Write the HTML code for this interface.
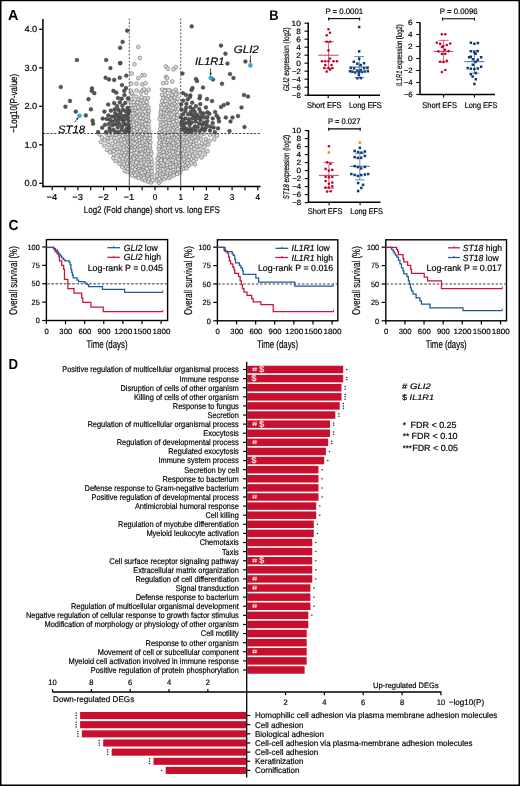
<!DOCTYPE html>
<html><head><meta charset="utf-8"><style>
html,body{margin:0;padding:0;background:#fff;}
body{width:520px;height:786px;overflow:hidden;}
svg{display:block;font-family:"Liberation Sans",sans-serif;will-change:transform;}
text{text-rendering:geometricPrecision;}
</style></head><body>
<svg width="520" height="786" viewBox="0 0 520 786">
<rect x="0" y="0" width="520" height="786" fill="#fff"/>
<text x="8.00" y="19.80" font-size="14.60" font-weight="bold" textLength="10.40" lengthAdjust="spacingAndGlyphs" xml:space="preserve">A</text>
<g fill="#dcdcdc" stroke="#6a6a6a" stroke-width="0.6">
<circle cx="143.0" cy="114.7" r="1.85"/>
<circle cx="197.4" cy="137.9" r="1.85"/>
<circle cx="167.0" cy="110.6" r="1.85"/>
<circle cx="114.2" cy="138.3" r="1.85"/>
<circle cx="111.5" cy="147.9" r="1.85"/>
<circle cx="133.1" cy="146.2" r="1.85"/>
<circle cx="159.1" cy="164.5" r="1.85"/>
<circle cx="126.9" cy="163.4" r="1.85"/>
<circle cx="166.0" cy="136.6" r="1.85"/>
<circle cx="167.2" cy="133.0" r="1.85"/>
<circle cx="146.4" cy="173.2" r="1.85"/>
<circle cx="173.8" cy="128.0" r="1.85"/>
<circle cx="132.8" cy="156.6" r="1.85"/>
<circle cx="149.0" cy="120.8" r="1.85"/>
<circle cx="137.2" cy="120.2" r="1.85"/>
<circle cx="177.8" cy="171.7" r="1.85"/>
<circle cx="184.8" cy="148.7" r="1.85"/>
<circle cx="167.2" cy="158.9" r="1.85"/>
<circle cx="186.7" cy="157.3" r="1.85"/>
<circle cx="175.2" cy="100.4" r="1.85"/>
<circle cx="161.6" cy="165.9" r="1.85"/>
<circle cx="122.0" cy="144.3" r="1.85"/>
<circle cx="147.7" cy="147.7" r="1.85"/>
<circle cx="145.2" cy="147.9" r="1.85"/>
<circle cx="142.5" cy="169.6" r="1.85"/>
<circle cx="172.2" cy="138.3" r="1.85"/>
<circle cx="137.2" cy="141.0" r="1.85"/>
<circle cx="163.1" cy="98.0" r="1.85"/>
<circle cx="164.0" cy="166.4" r="1.85"/>
<circle cx="149.1" cy="154.8" r="1.85"/>
<circle cx="136.2" cy="96.6" r="1.85"/>
<circle cx="148.6" cy="140.4" r="1.85"/>
<circle cx="127.3" cy="145.5" r="1.85"/>
<circle cx="183.3" cy="168.9" r="1.85"/>
<circle cx="143.9" cy="144.3" r="1.85"/>
<circle cx="139.6" cy="124.0" r="1.85"/>
<circle cx="143.4" cy="175.3" r="1.85"/>
<circle cx="146.3" cy="156.8" r="1.85"/>
<circle cx="162.1" cy="158.1" r="1.85"/>
<circle cx="175.2" cy="131.9" r="1.85"/>
<circle cx="174.0" cy="114.8" r="1.85"/>
<circle cx="135.8" cy="166.8" r="1.85"/>
<circle cx="187.2" cy="145.5" r="1.85"/>
<circle cx="129.3" cy="159.4" r="1.85"/>
<circle cx="176.4" cy="106.4" r="1.85"/>
<circle cx="183.5" cy="156.4" r="1.85"/>
<circle cx="163.9" cy="126.7" r="1.85"/>
<circle cx="151.7" cy="168.0" r="1.85"/>
<circle cx="136.7" cy="131.2" r="1.85"/>
<circle cx="130.5" cy="168.5" r="1.85"/>
<circle cx="140.4" cy="176.6" r="1.85"/>
<circle cx="135.6" cy="113.1" r="1.85"/>
<circle cx="172.5" cy="149.4" r="1.85"/>
<circle cx="139.9" cy="143.2" r="1.85"/>
<circle cx="208.2" cy="144.6" r="1.85"/>
<circle cx="128.1" cy="140.1" r="1.85"/>
<circle cx="162.2" cy="171.6" r="1.85"/>
<circle cx="193.7" cy="141.8" r="1.85"/>
<circle cx="188.2" cy="149.8" r="1.85"/>
<circle cx="173.3" cy="162.5" r="1.85"/>
<circle cx="128.9" cy="142.4" r="1.85"/>
<circle cx="165.2" cy="119.2" r="1.85"/>
<circle cx="143.5" cy="167.1" r="1.85"/>
<circle cx="142.5" cy="146.6" r="1.85"/>
<circle cx="130.3" cy="162.9" r="1.85"/>
<circle cx="170.3" cy="128.4" r="1.85"/>
<circle cx="174.6" cy="103.5" r="1.85"/>
<circle cx="164.8" cy="157.7" r="1.85"/>
<circle cx="177.6" cy="124.7" r="1.85"/>
<circle cx="145.7" cy="151.4" r="1.85"/>
<circle cx="131.6" cy="148.3" r="1.85"/>
<circle cx="125.2" cy="136.7" r="1.85"/>
<circle cx="161.8" cy="131.6" r="1.85"/>
<circle cx="138.8" cy="133.7" r="1.85"/>
<circle cx="168.9" cy="137.8" r="1.85"/>
<circle cx="172.8" cy="140.5" r="1.85"/>
<circle cx="174.8" cy="97.5" r="1.85"/>
<circle cx="143.6" cy="118.5" r="1.85"/>
<circle cx="130.0" cy="116.0" r="1.85"/>
<circle cx="146.1" cy="177.5" r="1.85"/>
<circle cx="162.8" cy="173.9" r="1.85"/>
<circle cx="150.7" cy="151.1" r="1.85"/>
<circle cx="117.1" cy="149.3" r="1.85"/>
<circle cx="170.8" cy="158.0" r="1.85"/>
<circle cx="165.6" cy="90.0" r="1.85"/>
<circle cx="139.3" cy="139.6" r="1.85"/>
<circle cx="148.3" cy="114.3" r="1.85"/>
<circle cx="203.0" cy="150.4" r="1.85"/>
<circle cx="135.0" cy="147.4" r="1.85"/>
<circle cx="137.1" cy="116.6" r="1.85"/>
<circle cx="121.4" cy="152.3" r="1.85"/>
<circle cx="107.1" cy="149.7" r="1.85"/>
<circle cx="191.2" cy="163.4" r="1.85"/>
<circle cx="151.6" cy="161.7" r="1.85"/>
<circle cx="170.6" cy="117.0" r="1.85"/>
<circle cx="118.8" cy="140.9" r="1.85"/>
<circle cx="146.0" cy="113.8" r="1.85"/>
<circle cx="144.7" cy="180.4" r="1.85"/>
<circle cx="188.9" cy="165.5" r="1.85"/>
<circle cx="162.6" cy="177.0" r="1.85"/>
<circle cx="125.9" cy="166.7" r="1.85"/>
<circle cx="205.8" cy="138.9" r="1.85"/>
<circle cx="129.5" cy="152.2" r="1.85"/>
<circle cx="179.7" cy="139.3" r="1.85"/>
<circle cx="175.9" cy="154.5" r="1.85"/>
<circle cx="191.3" cy="158.7" r="1.85"/>
<circle cx="176.2" cy="164.9" r="1.85"/>
<circle cx="166.6" cy="126.0" r="1.85"/>
<circle cx="139.0" cy="169.1" r="1.85"/>
<circle cx="184.6" cy="134.6" r="1.85"/>
<circle cx="123.3" cy="161.8" r="1.85"/>
<circle cx="139.3" cy="151.5" r="1.85"/>
<circle cx="162.1" cy="101.1" r="1.85"/>
<circle cx="193.0" cy="134.8" r="1.85"/>
<circle cx="192.3" cy="138.0" r="1.85"/>
<circle cx="160.8" cy="125.0" r="1.85"/>
<circle cx="167.2" cy="153.1" r="1.85"/>
<circle cx="145.4" cy="132.7" r="1.85"/>
<circle cx="131.4" cy="105.1" r="1.85"/>
<circle cx="144.7" cy="171.7" r="1.85"/>
<circle cx="138.9" cy="109.3" r="1.85"/>
<circle cx="132.6" cy="167.4" r="1.85"/>
<circle cx="118.1" cy="143.8" r="1.85"/>
<circle cx="171.4" cy="155.9" r="1.85"/>
<circle cx="201.7" cy="143.5" r="1.85"/>
<circle cx="131.5" cy="170.8" r="1.85"/>
<circle cx="175.6" cy="152.1" r="1.85"/>
<circle cx="176.3" cy="149.1" r="1.85"/>
<circle cx="159.3" cy="156.9" r="1.85"/>
<circle cx="144.7" cy="98.3" r="1.85"/>
<circle cx="144.1" cy="135.7" r="1.85"/>
<circle cx="139.5" cy="128.8" r="1.85"/>
<circle cx="146.7" cy="129.9" r="1.85"/>
<circle cx="180.1" cy="136.5" r="1.85"/>
<circle cx="171.7" cy="95.1" r="1.85"/>
<circle cx="150.2" cy="175.4" r="1.85"/>
<circle cx="164.7" cy="132.7" r="1.85"/>
<circle cx="134.1" cy="172.9" r="1.85"/>
<circle cx="148.7" cy="159.4" r="1.85"/>
<circle cx="143.2" cy="103.1" r="1.85"/>
<circle cx="184.5" cy="139.2" r="1.85"/>
<circle cx="168.7" cy="105.6" r="1.85"/>
<circle cx="147.6" cy="162.3" r="1.85"/>
<circle cx="136.5" cy="160.2" r="1.85"/>
<circle cx="162.9" cy="146.9" r="1.85"/>
<circle cx="142.8" cy="108.3" r="1.85"/>
<circle cx="169.1" cy="160.6" r="1.85"/>
<circle cx="169.2" cy="150.5" r="1.85"/>
<circle cx="175.0" cy="173.5" r="1.85"/>
<circle cx="132.0" cy="118.0" r="1.85"/>
<circle cx="136.4" cy="123.7" r="1.85"/>
<circle cx="176.9" cy="120.8" r="1.85"/>
<circle cx="184.8" cy="162.2" r="1.85"/>
<circle cx="137.2" cy="170.7" r="1.85"/>
<circle cx="196.8" cy="146.5" r="1.85"/>
<circle cx="136.8" cy="105.0" r="1.85"/>
<circle cx="169.0" cy="142.3" r="1.85"/>
<circle cx="176.5" cy="117.4" r="1.85"/>
<circle cx="137.2" cy="144.7" r="1.85"/>
<circle cx="136.7" cy="134.8" r="1.85"/>
<circle cx="123.9" cy="139.5" r="1.85"/>
<circle cx="170.0" cy="102.2" r="1.85"/>
<circle cx="175.5" cy="159.4" r="1.85"/>
<circle cx="169.5" cy="154.2" r="1.85"/>
<circle cx="145.8" cy="166.9" r="1.85"/>
<circle cx="151.4" cy="153.9" r="1.85"/>
<circle cx="138.2" cy="99.7" r="1.85"/>
<circle cx="131.0" cy="173.7" r="1.85"/>
<circle cx="133.7" cy="120.0" r="1.85"/>
<circle cx="113.7" cy="151.0" r="1.85"/>
<circle cx="217.0" cy="135.7" r="1.85"/>
<circle cx="131.7" cy="128.9" r="1.85"/>
<circle cx="142.7" cy="157.8" r="1.85"/>
<circle cx="162.5" cy="139.7" r="1.85"/>
<circle cx="196.1" cy="159.2" r="1.85"/>
<circle cx="144.4" cy="155.0" r="1.85"/>
<circle cx="165.3" cy="139.7" r="1.85"/>
<circle cx="124.1" cy="155.4" r="1.85"/>
<circle cx="115.8" cy="134.7" r="1.85"/>
<circle cx="124.8" cy="142.5" r="1.85"/>
<circle cx="156.8" cy="178.3" r="1.85"/>
<circle cx="167.2" cy="167.3" r="1.85"/>
<circle cx="178.1" cy="157.2" r="1.85"/>
<circle cx="159.0" cy="161.1" r="1.85"/>
<circle cx="164.7" cy="162.5" r="1.85"/>
<circle cx="131.4" cy="132.8" r="1.85"/>
<circle cx="173.4" cy="171.9" r="1.85"/>
<circle cx="129.6" cy="108.7" r="1.85"/>
<circle cx="175.6" cy="167.5" r="1.85"/>
<circle cx="142.8" cy="124.4" r="1.85"/>
<circle cx="142.4" cy="127.5" r="1.85"/>
<circle cx="132.6" cy="122.5" r="1.85"/>
<circle cx="139.3" cy="114.0" r="1.85"/>
<circle cx="175.7" cy="169.9" r="1.85"/>
<circle cx="125.6" cy="159.3" r="1.85"/>
<circle cx="115.4" cy="141.5" r="1.85"/>
<circle cx="139.6" cy="161.6" r="1.85"/>
<circle cx="187.2" cy="133.5" r="1.85"/>
<circle cx="191.4" cy="151.6" r="1.85"/>
<circle cx="170.2" cy="173.3" r="1.85"/>
<circle cx="160.9" cy="153.2" r="1.85"/>
<circle cx="108.8" cy="135.0" r="1.85"/>
<circle cx="166.5" cy="142.0" r="1.85"/>
<circle cx="174.2" cy="134.3" r="1.85"/>
<circle cx="171.9" cy="144.8" r="1.85"/>
<circle cx="172.0" cy="124.9" r="1.85"/>
<circle cx="180.9" cy="158.8" r="1.85"/>
<circle cx="166.2" cy="145.8" r="1.85"/>
<circle cx="158.7" cy="154.6" r="1.85"/>
<circle cx="169.1" cy="126.1" r="1.85"/>
<circle cx="146.2" cy="126.2" r="1.85"/>
<circle cx="198.5" cy="149.9" r="1.85"/>
<circle cx="159.4" cy="137.6" r="1.85"/>
<circle cx="173.1" cy="169.2" r="1.85"/>
<circle cx="141.7" cy="160.0" r="1.85"/>
<circle cx="165.5" cy="169.2" r="1.85"/>
<circle cx="144.8" cy="121.6" r="1.85"/>
<circle cx="147.1" cy="105.5" r="1.85"/>
<circle cx="142.6" cy="138.4" r="1.85"/>
<circle cx="188.5" cy="135.8" r="1.85"/>
<circle cx="209.5" cy="140.8" r="1.85"/>
<circle cx="141.0" cy="135.7" r="1.85"/>
<circle cx="132.6" cy="108.5" r="1.85"/>
<circle cx="201.6" cy="157.5" r="1.85"/>
<circle cx="156.7" cy="180.6" r="1.85"/>
<circle cx="144.7" cy="111.5" r="1.85"/>
<circle cx="141.3" cy="100.7" r="1.85"/>
<circle cx="124.9" cy="171.2" r="1.85"/>
<circle cx="148.0" cy="117.5" r="1.85"/>
<circle cx="158.9" cy="182.7" r="1.85"/>
<circle cx="120.4" cy="134.4" r="1.85"/>
<circle cx="108.5" cy="144.8" r="1.85"/>
<circle cx="147.5" cy="175.7" r="1.85"/>
<circle cx="180.8" cy="169.9" r="1.85"/>
<circle cx="174.6" cy="138.2" r="1.85"/>
<circle cx="120.8" cy="156.4" r="1.85"/>
<circle cx="139.2" cy="154.3" r="1.85"/>
<circle cx="129.9" cy="121.8" r="1.85"/>
<circle cx="133.7" cy="139.5" r="1.85"/>
<circle cx="178.3" cy="167.0" r="1.85"/>
<circle cx="176.1" cy="127.0" r="1.85"/>
<circle cx="112.6" cy="143.3" r="1.85"/>
<circle cx="135.3" cy="110.0" r="1.85"/>
<circle cx="140.1" cy="111.4" r="1.85"/>
<circle cx="130.8" cy="90.7" r="1.85"/>
<circle cx="180.2" cy="153.6" r="1.85"/>
<circle cx="130.4" cy="140.3" r="1.85"/>
<circle cx="137.0" cy="157.0" r="1.85"/>
<circle cx="161.5" cy="122.0" r="1.85"/>
<circle cx="122.3" cy="167.0" r="1.85"/>
<circle cx="129.0" cy="149.9" r="1.85"/>
<circle cx="200.6" cy="135.7" r="1.85"/>
<circle cx="125.1" cy="133.4" r="1.85"/>
<circle cx="166.8" cy="98.7" r="1.85"/>
<circle cx="160.6" cy="169.1" r="1.85"/>
<circle cx="135.0" cy="169.5" r="1.85"/>
<circle cx="162.9" cy="116.8" r="1.85"/>
<circle cx="120.2" cy="148.2" r="1.85"/>
<circle cx="203.8" cy="133.7" r="1.85"/>
<circle cx="119.2" cy="136.8" r="1.85"/>
<circle cx="151.3" cy="182.4" r="1.85"/>
<circle cx="152.2" cy="174.0" r="1.85"/>
<circle cx="164.4" cy="171.8" r="1.85"/>
<circle cx="186.3" cy="154.3" r="1.85"/>
<circle cx="127.6" cy="171.8" r="1.85"/>
<circle cx="170.9" cy="112.3" r="1.85"/>
<circle cx="160.9" cy="114.8" r="1.85"/>
<circle cx="175.3" cy="108.9" r="1.85"/>
<circle cx="140.6" cy="117.9" r="1.85"/>
<circle cx="111.1" cy="137.9" r="1.85"/>
<circle cx="168.8" cy="120.6" r="1.85"/>
<circle cx="134.9" cy="154.6" r="1.85"/>
<circle cx="189.6" cy="143.9" r="1.85"/>
<circle cx="176.1" cy="143.3" r="1.85"/>
<circle cx="160.1" cy="140.6" r="1.85"/>
<circle cx="162.0" cy="94.8" r="1.85"/>
<circle cx="146.0" cy="142.1" r="1.85"/>
<circle cx="148.9" cy="133.1" r="1.85"/>
<circle cx="160.7" cy="181.0" r="1.85"/>
<circle cx="189.4" cy="153.7" r="1.85"/>
<circle cx="177.6" cy="115.1" r="1.85"/>
<circle cx="170.3" cy="177.2" r="1.85"/>
<circle cx="134.1" cy="127.3" r="1.85"/>
<circle cx="163.1" cy="112.5" r="1.85"/>
<circle cx="132.0" cy="99.1" r="1.85"/>
<circle cx="138.9" cy="137.1" r="1.85"/>
<circle cx="168.2" cy="178.0" r="1.85"/>
<circle cx="132.2" cy="111.1" r="1.85"/>
<circle cx="141.7" cy="105.4" r="1.85"/>
<circle cx="141.7" cy="151.5" r="1.85"/>
<circle cx="169.4" cy="123.0" r="1.85"/>
<circle cx="101.0" cy="141.9" r="1.85"/>
<circle cx="132.9" cy="134.9" r="1.85"/>
<circle cx="161.2" cy="105.2" r="1.85"/>
<circle cx="99.5" cy="134.4" r="1.85"/>
<circle cx="107.5" cy="138.0" r="1.85"/>
<circle cx="176.8" cy="111.2" r="1.85"/>
<circle cx="179.2" cy="162.5" r="1.85"/>
<circle cx="138.5" cy="147.9" r="1.85"/>
<circle cx="146.2" cy="92.6" r="1.85"/>
<circle cx="160.8" cy="144.4" r="1.85"/>
<circle cx="129.7" cy="157.2" r="1.85"/>
<circle cx="169.1" cy="114.3" r="1.85"/>
<circle cx="165.2" cy="107.2" r="1.85"/>
<circle cx="161.7" cy="149.9" r="1.85"/>
<circle cx="125.6" cy="152.0" r="1.85"/>
<circle cx="196.8" cy="133.6" r="1.85"/>
<circle cx="214.1" cy="139.3" r="1.85"/>
<circle cx="169.1" cy="109.3" r="1.85"/>
<circle cx="191.3" cy="146.9" r="1.85"/>
<circle cx="119.5" cy="163.7" r="1.85"/>
<circle cx="175.7" cy="89.7" r="1.85"/>
<circle cx="159.8" cy="151.2" r="1.85"/>
<circle cx="204.5" cy="146.8" r="1.85"/>
<circle cx="173.8" cy="175.5" r="1.85"/>
<circle cx="128.5" cy="155.0" r="1.85"/>
<circle cx="150.5" cy="142.4" r="1.85"/>
<circle cx="133.8" cy="116.0" r="1.85"/>
<circle cx="173.8" cy="158.0" r="1.85"/>
<circle cx="180.2" cy="165.2" r="1.85"/>
<circle cx="181.7" cy="161.5" r="1.85"/>
<circle cx="172.0" cy="105.5" r="1.85"/>
<circle cx="129.2" cy="147.0" r="1.85"/>
<circle cx="166.0" cy="113.8" r="1.85"/>
<circle cx="197.6" cy="156.0" r="1.85"/>
<circle cx="170.9" cy="98.4" r="1.85"/>
<circle cx="136.0" cy="177.0" r="1.85"/>
<circle cx="159.1" cy="179.0" r="1.85"/>
<circle cx="148.6" cy="173.3" r="1.85"/>
<circle cx="138.1" cy="174.4" r="1.85"/>
<circle cx="146.2" cy="108.0" r="1.85"/>
<circle cx="104.1" cy="145.6" r="1.85"/>
<circle cx="168.5" cy="96.1" r="1.85"/>
<circle cx="160.1" cy="135.5" r="1.85"/>
<circle cx="130.3" cy="165.2" r="1.85"/>
<circle cx="164.2" cy="109.5" r="1.85"/>
<circle cx="182.6" cy="145.6" r="1.85"/>
<circle cx="144.3" cy="160.1" r="1.85"/>
<circle cx="184.1" cy="151.5" r="1.85"/>
<circle cx="140.6" cy="171.0" r="1.85"/>
<circle cx="123.8" cy="147.0" r="1.85"/>
<circle cx="178.8" cy="147.8" r="1.85"/>
<circle cx="131.7" cy="160.3" r="1.85"/>
<circle cx="181.9" cy="149.6" r="1.85"/>
<circle cx="166.9" cy="175.2" r="1.85"/>
<circle cx="107.9" cy="141.4" r="1.85"/>
<circle cx="135.0" cy="164.4" r="1.85"/>
<circle cx="162.2" cy="119.1" r="1.85"/>
<circle cx="141.9" cy="153.7" r="1.85"/>
<circle cx="159.9" cy="171.4" r="1.85"/>
<circle cx="171.0" cy="147.4" r="1.85"/>
<circle cx="168.0" cy="128.6" r="1.85"/>
<circle cx="134.0" cy="105.3" r="1.85"/>
<circle cx="167.4" cy="156.3" r="1.85"/>
<circle cx="158.9" cy="148.8" r="1.85"/>
<circle cx="145.7" cy="116.3" r="1.85"/>
<circle cx="150.1" cy="147.8" r="1.85"/>
<circle cx="186.7" cy="142.5" r="1.85"/>
<circle cx="147.4" cy="144.6" r="1.85"/>
<circle cx="119.5" cy="159.8" r="1.85"/>
<circle cx="167.7" cy="116.3" r="1.85"/>
<circle cx="151.7" cy="177.6" r="1.85"/>
<circle cx="102.1" cy="137.4" r="1.85"/>
<circle cx="141.6" cy="165.4" r="1.85"/>
<circle cx="151.6" cy="171.4" r="1.85"/>
<circle cx="157.5" cy="169.8" r="1.85"/>
<circle cx="170.4" cy="167.3" r="1.85"/>
<circle cx="137.4" cy="150.1" r="1.85"/>
<circle cx="187.9" cy="160.4" r="1.85"/>
<circle cx="172.8" cy="119.7" r="1.85"/>
<circle cx="148.0" cy="181.7" r="1.85"/>
<circle cx="180.9" cy="144.1" r="1.85"/>
<circle cx="149.6" cy="157.0" r="1.85"/>
<circle cx="160.4" cy="117.1" r="1.85"/>
<circle cx="130.2" cy="126.3" r="1.85"/>
<circle cx="147.4" cy="152.9" r="1.85"/>
<circle cx="113.3" cy="158.1" r="1.85"/>
<circle cx="129.4" cy="100.5" r="1.85"/>
<circle cx="143.0" cy="131.7" r="1.85"/>
<circle cx="118.6" cy="151.8" r="1.85"/>
<circle cx="122.9" cy="158.4" r="1.85"/>
<circle cx="174.1" cy="145.4" r="1.85"/>
<circle cx="161.6" cy="155.9" r="1.85"/>
<circle cx="147.2" cy="137.8" r="1.85"/>
<circle cx="205.3" cy="142.6" r="1.85"/>
<circle cx="131.3" cy="154.3" r="1.85"/>
<circle cx="133.9" cy="152.6" r="1.85"/>
<circle cx="169.9" cy="132.6" r="1.85"/>
<circle cx="177.7" cy="136.9" r="1.85"/>
<circle cx="165.7" cy="122.8" r="1.85"/>
<circle cx="166.4" cy="150.1" r="1.85"/>
<circle cx="132.4" cy="94.3" r="1.85"/>
<circle cx="157.4" cy="166.7" r="1.85"/>
<circle cx="162.6" cy="136.4" r="1.85"/>
<circle cx="207.4" cy="151.1" r="1.85"/>
<circle cx="160.2" cy="128.8" r="1.85"/>
<circle cx="164.3" cy="179.1" r="1.85"/>
<circle cx="149.5" cy="167.8" r="1.85"/>
<circle cx="142.4" cy="142.4" r="1.85"/>
<circle cx="144.1" cy="162.5" r="1.85"/>
<circle cx="166.5" cy="104.1" r="1.85"/>
<circle cx="195.4" cy="153.5" r="1.85"/>
<circle cx="177.5" cy="93.5" r="1.85"/>
<circle cx="137.5" cy="111.7" r="1.85"/>
<circle cx="167.1" cy="165.1" r="1.85"/>
<circle cx="165.3" cy="100.9" r="1.85"/>
<circle cx="144.5" cy="140.4" r="1.85"/>
<circle cx="163.3" cy="152.1" r="1.85"/>
<circle cx="133.9" cy="101.9" r="1.85"/>
<circle cx="148.1" cy="170.8" r="1.85"/>
<circle cx="172.8" cy="130.6" r="1.85"/>
<circle cx="142.6" cy="148.9" r="1.85"/>
<circle cx="130.3" cy="144.1" r="1.85"/>
<circle cx="196.3" cy="143.2" r="1.85"/>
<circle cx="128.0" cy="133.8" r="1.85"/>
<circle cx="164.3" cy="130.1" r="1.85"/>
<circle cx="178.5" cy="150.4" r="1.85"/>
<circle cx="159.7" cy="174.7" r="1.85"/>
<circle cx="185.0" cy="165.1" r="1.85"/>
<circle cx="171.4" cy="110.0" r="1.85"/>
<circle cx="146.9" cy="102.0" r="1.85"/>
<circle cx="145.0" cy="137.9" r="1.85"/>
<circle cx="193.0" cy="155.9" r="1.85"/>
<circle cx="114.9" cy="146.9" r="1.85"/>
<circle cx="141.6" cy="97.2" r="1.85"/>
<circle cx="164.1" cy="142.0" r="1.85"/>
<circle cx="170.5" cy="170.9" r="1.85"/>
<circle cx="169.0" cy="145.8" r="1.85"/>
<circle cx="135.8" cy="107.7" r="1.85"/>
<circle cx="130.5" cy="113.4" r="1.85"/>
<circle cx="200.9" cy="139.3" r="1.85"/>
<circle cx="159.0" cy="133.1" r="1.85"/>
<circle cx="149.6" cy="164.7" r="1.85"/>
<circle cx="139.8" cy="121.5" r="1.85"/>
<circle cx="199.8" cy="153.0" r="1.85"/>
<circle cx="132.6" cy="163.3" r="1.85"/>
<circle cx="140.3" cy="146.0" r="1.85"/>
<circle cx="132.2" cy="175.5" r="1.85"/>
<circle cx="134.2" cy="161.5" r="1.85"/>
<circle cx="148.3" cy="124.2" r="1.85"/>
<circle cx="138.2" cy="106.9" r="1.85"/>
<circle cx="209.9" cy="134.7" r="1.85"/>
<circle cx="178.1" cy="169.2" r="1.85"/>
<circle cx="195.0" cy="164.4" r="1.85"/>
<circle cx="178.8" cy="159.3" r="1.85"/>
<circle cx="173.8" cy="117.3" r="1.85"/>
<circle cx="172.2" cy="164.6" r="1.85"/>
<circle cx="177.5" cy="129.1" r="1.85"/>
<circle cx="151.2" cy="158.6" r="1.85"/>
<circle cx="164.2" cy="144.8" r="1.85"/>
<circle cx="134.6" cy="136.7" r="1.85"/>
<circle cx="138.6" cy="126.6" r="1.85"/>
<circle cx="149.0" cy="179.2" r="1.85"/>
<circle cx="122.8" cy="135.6" r="1.85"/>
<circle cx="127.6" cy="137.8" r="1.85"/>
<circle cx="182.1" cy="139.0" r="1.85"/>
<circle cx="142.1" cy="172.9" r="1.85"/>
<circle cx="150.0" cy="135.3" r="1.85"/>
<circle cx="177.2" cy="102.0" r="1.85"/>
<circle cx="144.7" cy="105.9" r="1.85"/>
<circle cx="113.7" cy="154.4" r="1.85"/>
<circle cx="183.5" cy="143.3" r="1.85"/>
<circle cx="142.2" cy="121.9" r="1.85"/>
<circle cx="148.6" cy="127.8" r="1.85"/>
<circle cx="170.1" cy="164.0" r="1.85"/>
<circle cx="176.5" cy="134.6" r="1.85"/>
<circle cx="188.9" cy="139.2" r="1.85"/>
<circle cx="138.5" cy="163.6" r="1.85"/>
<circle cx="194.4" cy="149.0" r="1.85"/>
<circle cx="146.3" cy="119.8" r="1.85"/>
<circle cx="162.9" cy="169.5" r="1.85"/>
<circle cx="134.8" cy="133.1" r="1.85"/>
<circle cx="104.6" cy="140.1" r="1.85"/>
<circle cx="174.7" cy="123.8" r="1.85"/>
<circle cx="132.5" cy="142.1" r="1.85"/>
<circle cx="117.4" cy="155.7" r="1.85"/>
<circle cx="182.7" cy="164.3" r="1.85"/>
<circle cx="164.1" cy="155.4" r="1.85"/>
<circle cx="163.9" cy="105.1" r="1.85"/>
<circle cx="133.8" cy="124.8" r="1.85"/>
<circle cx="171.3" cy="134.6" r="1.85"/>
<circle cx="177.7" cy="98.6" r="1.85"/>
<circle cx="161.1" cy="109.9" r="1.85"/>
<circle cx="146.0" cy="164.4" r="1.85"/>
<circle cx="134.7" cy="143.5" r="1.85"/>
<circle cx="146.8" cy="168.9" r="1.85"/>
<circle cx="170.2" cy="90.7" r="1.85"/>
<circle cx="129.9" cy="119.4" r="1.85"/>
<circle cx="157.4" cy="173.8" r="1.85"/>
<circle cx="170.4" cy="140.6" r="1.85"/>
<circle cx="162.0" cy="134.3" r="1.85"/>
<circle cx="159.2" cy="146.2" r="1.85"/>
<circle cx="177.0" cy="145.5" r="1.85"/>
<circle cx="139.4" cy="165.9" r="1.85"/>
<circle cx="163.3" cy="164.2" r="1.85"/>
<circle cx="140.8" cy="92.4" r="1.85"/>
<circle cx="149.2" cy="130.7" r="1.85"/>
<circle cx="175.6" cy="161.6" r="1.85"/>
<circle cx="179.6" cy="133.4" r="1.85"/>
<circle cx="112.5" cy="133.7" r="1.85"/>
<circle cx="126.4" cy="149.4" r="1.85"/>
<circle cx="190.9" cy="141.4" r="1.85"/>
<circle cx="147.9" cy="98.0" r="1.85"/>
<circle cx="176.4" cy="139.9" r="1.85"/>
<circle cx="136.7" cy="128.8" r="1.85"/>
<circle cx="174.0" cy="112.3" r="1.85"/>
<circle cx="138.5" cy="158.9" r="1.85"/>
<circle cx="186.6" cy="168.3" r="1.85"/>
<circle cx="180.3" cy="141.8" r="1.85"/>
<circle cx="130.6" cy="134.9" r="1.85"/>
<circle cx="148.8" cy="111.0" r="1.85"/>
<circle cx="161.5" cy="162.4" r="1.85"/>
<circle cx="200.0" cy="146.0" r="1.85"/>
<circle cx="173.3" cy="154.0" r="1.85"/>
<circle cx="167.5" cy="162.2" r="1.85"/>
<circle cx="166.9" cy="172.7" r="1.85"/>
<circle cx="148.2" cy="150.9" r="1.85"/>
<circle cx="132.9" cy="113.5" r="1.85"/>
<circle cx="189.4" cy="156.5" r="1.85"/>
<circle cx="179.9" cy="172.6" r="1.85"/>
<circle cx="109.9" cy="152.2" r="1.85"/>
<circle cx="138.6" cy="178.0" r="1.85"/>
<circle cx="183.1" cy="153.8" r="1.85"/>
<circle cx="172.5" cy="160.0" r="1.85"/>
<circle cx="142.2" cy="179.3" r="1.85"/>
<circle cx="157.5" cy="158.5" r="1.85"/>
<circle cx="133.7" cy="150.0" r="1.85"/>
<circle cx="165.2" cy="160.2" r="1.85"/>
<circle cx="124.0" cy="164.5" r="1.85"/>
<circle cx="140.5" cy="157.2" r="1.85"/>
<circle cx="140.0" cy="103.3" r="1.85"/>
<circle cx="146.6" cy="135.2" r="1.85"/>
<circle cx="165.4" cy="176.8" r="1.85"/>
<circle cx="165.3" cy="94.6" r="1.85"/>
<circle cx="132.4" cy="137.4" r="1.85"/>
<circle cx="159.2" cy="142.7" r="1.85"/>
<circle cx="150.1" cy="138.2" r="1.85"/>
<circle cx="170.7" cy="107.5" r="1.85"/>
<circle cx="182.0" cy="134.8" r="1.85"/>
<circle cx="105.9" cy="133.3" r="1.85"/>
<circle cx="123.8" cy="149.9" r="1.85"/>
<circle cx="137.4" cy="102.3" r="1.85"/>
<circle cx="168.0" cy="170.5" r="1.85"/>
<circle cx="173.2" cy="122.0" r="1.85"/>
<circle cx="121.1" cy="139.8" r="1.85"/>
<circle cx="163.1" cy="123.9" r="1.85"/>
<circle cx="149.9" cy="145.6" r="1.85"/>
<circle cx="172.8" cy="151.9" r="1.85"/>
<circle cx="160.6" cy="112.2" r="1.85"/>
<circle cx="172.3" cy="100.7" r="1.85"/>
<circle cx="135.8" cy="138.7" r="1.85"/>
<circle cx="173.1" cy="142.9" r="1.85"/>
<circle cx="144.1" cy="129.5" r="1.85"/>
<circle cx="152.0" cy="164.3" r="1.85"/>
<circle cx="140.4" cy="131.1" r="1.85"/>
<circle cx="177.7" cy="131.7" r="1.85"/>
<circle cx="177.7" cy="152.9" r="1.85"/>
<circle cx="168.0" cy="148.0" r="1.85"/>
<circle cx="193.4" cy="144.9" r="1.85"/>
<circle cx="168.3" cy="135.6" r="1.85"/>
<circle cx="134.2" cy="130.6" r="1.85"/>
<circle cx="190.7" cy="133.6" r="1.85"/>
<circle cx="129.6" cy="130.2" r="1.85"/>
<circle cx="161.8" cy="107.5" r="1.85"/>
<circle cx="171.6" cy="114.7" r="1.85"/>
<circle cx="152.7" cy="180.2" r="1.85"/>
<circle cx="141.1" cy="163.2" r="1.85"/>
<circle cx="136.5" cy="172.8" r="1.85"/>
<circle cx="186.5" cy="137.3" r="1.85"/>
<circle cx="187.6" cy="163.1" r="1.85"/>
<circle cx="135.4" cy="118.3" r="1.85"/>
<circle cx="168.1" cy="140.1" r="1.85"/>
<circle cx="159.8" cy="119.4" r="1.85"/>
<circle cx="127.9" cy="168.8" r="1.85"/>
<circle cx="131.4" cy="150.7" r="1.85"/>
<circle cx="136.4" cy="152.8" r="1.85"/>
<circle cx="142.6" cy="134.0" r="1.85"/>
<circle cx="174.1" cy="148.0" r="1.85"/>
<circle cx="183.8" cy="159.3" r="1.85"/>
<circle cx="161.0" cy="160.0" r="1.85"/>
<circle cx="178.2" cy="109.0" r="1.85"/>
<circle cx="164.7" cy="148.3" r="1.85"/>
<circle cx="213.5" cy="134.5" r="1.85"/>
<circle cx="157.5" cy="163.0" r="1.85"/>
<circle cx="173.1" cy="166.7" r="1.85"/>
<circle cx="140.4" cy="149.3" r="1.85"/>
<circle cx="134.0" cy="158.5" r="1.85"/>
<circle cx="178.6" cy="143.9" r="1.85"/>
<circle cx="180.3" cy="156.1" r="1.85"/>
<circle cx="156.9" cy="175.9" r="1.85"/>
<circle cx="136.4" cy="162.4" r="1.85"/>
<circle cx="143.9" cy="177.8" r="1.85"/>
<circle cx="193.6" cy="161.1" r="1.85"/>
<circle cx="129.8" cy="111.2" r="1.85"/>
<circle cx="127.1" cy="157.1" r="1.85"/>
<circle cx="173.0" cy="108.1" r="1.85"/>
<circle cx="183.5" cy="137.0" r="1.85"/>
<circle cx="129.8" cy="137.6" r="1.85"/>
<circle cx="177.9" cy="141.7" r="1.85"/>
<circle cx="145.3" cy="124.0" r="1.85"/>
<circle cx="204.8" cy="154.5" r="1.85"/>
<circle cx="196.2" cy="140.4" r="1.85"/>
<circle cx="135.3" cy="174.9" r="1.85"/>
<circle cx="194.9" cy="136.8" r="1.85"/>
<circle cx="115.7" cy="161.1" r="1.85"/>
<circle cx="148.6" cy="107.7" r="1.85"/>
<circle cx="177.2" cy="174.0" r="1.85"/>
<circle cx="138.3" cy="46.9" r="1.85"/>
<circle cx="139.8" cy="57.9" r="1.85"/>
<circle cx="134.5" cy="64.2" r="1.85"/>
<circle cx="131.7" cy="73.5" r="1.85"/>
<circle cx="138.3" cy="78.1" r="1.85"/>
<circle cx="142.3" cy="75.2" r="1.85"/>
<circle cx="144.6" cy="75.2" r="1.85"/>
<circle cx="131.3" cy="83.6" r="1.85"/>
<circle cx="136.5" cy="83.6" r="1.85"/>
<circle cx="142.3" cy="84.4" r="1.85"/>
<circle cx="145.5" cy="83.3" r="1.85"/>
<circle cx="136.5" cy="90.5" r="1.85"/>
<circle cx="142.3" cy="90.5" r="1.85"/>
<circle cx="144.0" cy="89.4" r="1.85"/>
<circle cx="148.7" cy="89.6" r="1.85"/>
<circle cx="131.9" cy="93.1" r="1.85"/>
<circle cx="166.0" cy="66.5" r="1.85"/>
<circle cx="167.7" cy="68.8" r="1.85"/>
<circle cx="175.8" cy="67.1" r="1.85"/>
<circle cx="173.5" cy="69.4" r="1.85"/>
<circle cx="166.0" cy="76.9" r="1.85"/>
<circle cx="167.1" cy="78.1" r="1.85"/>
<circle cx="163.1" cy="83.3" r="1.85"/>
<circle cx="166.5" cy="82.7" r="1.85"/>
<circle cx="172.3" cy="81.5" r="1.85"/>
<circle cx="161.9" cy="89.6" r="1.85"/>
<circle cx="164.8" cy="90.8" r="1.85"/>
<circle cx="168.8" cy="90.2" r="1.85"/>
<circle cx="173.5" cy="91.9" r="1.85"/>
<circle cx="175.8" cy="94.2" r="1.85"/>
</g>
<g fill="#565656" stroke="#333" stroke-width="0.5">
<circle cx="195.6" cy="121.5" r="1.85"/>
<circle cx="186.4" cy="103.8" r="1.85"/>
<circle cx="202.1" cy="128.9" r="1.85"/>
<circle cx="124.3" cy="115.9" r="1.85"/>
<circle cx="207.4" cy="112.3" r="1.85"/>
<circle cx="205.9" cy="107.4" r="1.85"/>
<circle cx="182.0" cy="129.5" r="1.85"/>
<circle cx="185.5" cy="118.4" r="1.85"/>
<circle cx="192.8" cy="118.1" r="1.85"/>
<circle cx="218.0" cy="128.3" r="1.85"/>
<circle cx="122.9" cy="109.7" r="1.85"/>
<circle cx="109.5" cy="128.1" r="1.85"/>
<circle cx="121.9" cy="129.7" r="1.85"/>
<circle cx="190.3" cy="95.4" r="1.85"/>
<circle cx="108.9" cy="123.9" r="1.85"/>
<circle cx="108.2" cy="104.5" r="1.85"/>
<circle cx="115.7" cy="124.1" r="1.85"/>
<circle cx="191.7" cy="122.4" r="1.85"/>
<circle cx="112.1" cy="116.6" r="1.85"/>
<circle cx="194.9" cy="112.1" r="1.85"/>
<circle cx="186.8" cy="128.8" r="1.85"/>
<circle cx="118.9" cy="118.2" r="1.85"/>
<circle cx="191.7" cy="114.5" r="1.85"/>
<circle cx="116.0" cy="132.1" r="1.85"/>
<circle cx="104.4" cy="111.6" r="1.85"/>
<circle cx="185.2" cy="123.3" r="1.85"/>
<circle cx="200.6" cy="119.9" r="1.85"/>
<circle cx="207.3" cy="121.0" r="1.85"/>
<circle cx="199.2" cy="123.4" r="1.85"/>
<circle cx="115.2" cy="119.9" r="1.85"/>
<circle cx="186.0" cy="107.8" r="1.85"/>
<circle cx="102.7" cy="118.5" r="1.85"/>
<circle cx="108.4" cy="115.4" r="1.85"/>
<circle cx="110.9" cy="110.7" r="1.85"/>
<circle cx="121.7" cy="98.7" r="1.85"/>
<circle cx="118.5" cy="109.8" r="1.85"/>
<circle cx="106.2" cy="131.8" r="1.85"/>
<circle cx="125.3" cy="102.9" r="1.85"/>
<circle cx="195.0" cy="126.3" r="1.85"/>
<circle cx="190.3" cy="107.2" r="1.85"/>
<circle cx="121.6" cy="119.3" r="1.85"/>
<circle cx="212.7" cy="118.5" r="1.85"/>
<circle cx="112.7" cy="125.2" r="1.85"/>
<circle cx="102.2" cy="127.7" r="1.85"/>
<circle cx="207.4" cy="117.2" r="1.85"/>
<circle cx="195.6" cy="130.5" r="1.85"/>
<circle cx="114.7" cy="109.3" r="1.85"/>
<circle cx="184.2" cy="127.2" r="1.85"/>
<circle cx="127.5" cy="114.6" r="1.85"/>
<circle cx="195.9" cy="106.1" r="1.85"/>
<circle cx="192.2" cy="102.7" r="1.85"/>
<circle cx="206.6" cy="124.5" r="1.85"/>
<circle cx="210.0" cy="130.5" r="1.85"/>
<circle cx="213.6" cy="127.5" r="1.85"/>
<circle cx="119.3" cy="124.0" r="1.85"/>
<circle cx="201.3" cy="116.2" r="1.85"/>
<circle cx="125.6" cy="124.5" r="1.85"/>
<circle cx="122.4" cy="105.6" r="1.85"/>
<circle cx="205.9" cy="127.6" r="1.85"/>
<circle cx="117.7" cy="115.2" r="1.85"/>
<circle cx="204.3" cy="117.4" r="1.85"/>
<circle cx="127.9" cy="98.4" r="1.85"/>
<circle cx="190.0" cy="129.2" r="1.85"/>
<circle cx="204.6" cy="130.2" r="1.85"/>
<circle cx="202.2" cy="124.9" r="1.85"/>
<circle cx="199.3" cy="109.1" r="1.85"/>
<circle cx="106.6" cy="119.0" r="1.85"/>
<circle cx="189.6" cy="125.0" r="1.85"/>
<circle cx="197.4" cy="115.0" r="1.85"/>
<circle cx="185.4" cy="111.1" r="1.85"/>
<circle cx="183.1" cy="120.0" r="1.85"/>
<circle cx="127.5" cy="107.9" r="1.85"/>
<circle cx="112.1" cy="121.6" r="1.85"/>
<circle cx="189.3" cy="119.2" r="1.85"/>
<circle cx="218.5" cy="118.2" r="1.85"/>
<circle cx="126.4" cy="128.9" r="1.85"/>
<circle cx="128.3" cy="125.0" r="1.85"/>
<circle cx="114.2" cy="103.1" r="1.85"/>
<circle cx="192.9" cy="128.8" r="1.85"/>
<circle cx="215.1" cy="112.0" r="1.85"/>
<circle cx="210.1" cy="126.6" r="1.85"/>
<circle cx="110.1" cy="130.9" r="1.85"/>
<circle cx="117.8" cy="127.4" r="1.85"/>
<circle cx="199.6" cy="98.3" r="1.85"/>
<circle cx="119.0" cy="132.1" r="1.85"/>
<circle cx="181.0" cy="117.4" r="1.85"/>
<circle cx="184.9" cy="130.9" r="1.85"/>
<circle cx="203.7" cy="113.5" r="1.85"/>
<circle cx="188.2" cy="114.3" r="1.85"/>
<circle cx="183.1" cy="100.6" r="1.85"/>
<circle cx="105.0" cy="124.8" r="1.85"/>
<circle cx="197.7" cy="127.1" r="1.85"/>
<circle cx="187.9" cy="131.9" r="1.85"/>
<circle cx="181.7" cy="109.6" r="1.85"/>
<circle cx="124.5" cy="119.4" r="1.85"/>
<circle cx="113.5" cy="129.8" r="1.85"/>
<circle cx="190.9" cy="111.5" r="1.85"/>
<circle cx="200.6" cy="112.1" r="1.85"/>
<circle cx="120.4" cy="112.6" r="1.85"/>
<circle cx="198.5" cy="117.9" r="1.85"/>
<circle cx="128.6" cy="131.4" r="1.85"/>
<circle cx="181.8" cy="125.2" r="1.85"/>
<circle cx="122.1" cy="126.4" r="1.85"/>
<circle cx="119.8" cy="102.3" r="1.85"/>
<circle cx="115.2" cy="113.0" r="1.85"/>
<circle cx="200.3" cy="104.1" r="1.85"/>
<circle cx="127.6" cy="117.8" r="1.85"/>
<circle cx="199.9" cy="130.9" r="1.85"/>
<circle cx="183.1" cy="114.2" r="1.85"/>
<circle cx="125.7" cy="111.3" r="1.85"/>
<circle cx="203.9" cy="122.7" r="1.85"/>
<circle cx="123.5" cy="122.6" r="1.85"/>
<circle cx="212.7" cy="123.1" r="1.85"/>
<circle cx="128.4" cy="120.9" r="1.85"/>
<circle cx="118.1" cy="121.0" r="1.85"/>
<circle cx="117.1" cy="106.1" r="1.85"/>
<circle cx="194.7" cy="115.9" r="1.85"/>
<circle cx="124.3" cy="90.8" r="1.85"/>
<circle cx="188.4" cy="122.1" r="1.85"/>
<circle cx="181.2" cy="104.4" r="1.85"/>
<circle cx="129.0" cy="111.3" r="1.85"/>
<circle cx="191.5" cy="131.9" r="1.85"/>
<circle cx="121.3" cy="115.8" r="1.85"/>
<circle cx="98.1" cy="132.0" r="1.85"/>
<circle cx="124.9" cy="131.9" r="1.85"/>
<circle cx="116.3" cy="92.6" r="1.85"/>
<circle cx="214.9" cy="132.1" r="1.85"/>
<circle cx="183.0" cy="93.1" r="1.85"/>
<circle cx="187.7" cy="99.3" r="1.85"/>
<circle cx="181.4" cy="122.4" r="1.85"/>
<circle cx="193.3" cy="109.1" r="1.85"/>
<circle cx="115.0" cy="116.4" r="1.85"/>
<circle cx="195.7" cy="118.7" r="1.85"/>
<circle cx="109.7" cy="119.7" r="1.85"/>
<circle cx="129.1" cy="127.9" r="1.85"/>
<circle cx="127.2" cy="30.7" r="1.85"/>
<circle cx="122.6" cy="41.8" r="1.85"/>
<circle cx="120.1" cy="47.8" r="1.85"/>
<circle cx="76.9" cy="60.0" r="1.85"/>
<circle cx="106.2" cy="60.0" r="1.85"/>
<circle cx="120.1" cy="63.2" r="1.85"/>
<circle cx="110.4" cy="68.1" r="1.85"/>
<circle cx="60.8" cy="87.0" r="1.85"/>
<circle cx="70.0" cy="100.9" r="1.85"/>
<circle cx="88.5" cy="99.2" r="1.85"/>
<circle cx="92.0" cy="88.4" r="1.85"/>
<circle cx="91.7" cy="90.8" r="1.85"/>
<circle cx="94.3" cy="93.2" r="1.85"/>
<circle cx="65.4" cy="106.7" r="1.85"/>
<circle cx="75.8" cy="111.6" r="1.85"/>
<circle cx="85.8" cy="115.4" r="1.85"/>
<circle cx="90.9" cy="109.3" r="1.85"/>
<circle cx="92.6" cy="120.6" r="1.85"/>
<circle cx="93.1" cy="123.7" r="1.85"/>
<circle cx="120.3" cy="63.1" r="1.85"/>
<circle cx="105.6" cy="77.7" r="1.85"/>
<circle cx="109.0" cy="79.4" r="1.85"/>
<circle cx="114.2" cy="79.9" r="1.85"/>
<circle cx="119.8" cy="77.7" r="1.85"/>
<circle cx="126.3" cy="75.6" r="1.85"/>
<circle cx="113.4" cy="90.8" r="1.85"/>
<circle cx="191.7" cy="26.3" r="1.85"/>
<circle cx="221.0" cy="45.6" r="1.85"/>
<circle cx="225.4" cy="53.7" r="1.85"/>
<circle cx="227.5" cy="63.5" r="1.85"/>
<circle cx="245.4" cy="61.5" r="1.85"/>
<circle cx="182.5" cy="73.5" r="1.85"/>
<circle cx="230.0" cy="74.0" r="1.85"/>
<circle cx="233.5" cy="78.0" r="1.85"/>
<circle cx="196.0" cy="79.0" r="1.85"/>
<circle cx="197.0" cy="81.0" r="1.85"/>
<circle cx="213.0" cy="79.5" r="1.85"/>
<circle cx="222.0" cy="83.7" r="1.85"/>
<circle cx="192.5" cy="88.0" r="1.85"/>
<circle cx="191.5" cy="90.0" r="1.85"/>
<circle cx="203.0" cy="87.5" r="1.85"/>
<circle cx="244.0" cy="95.0" r="1.85"/>
<circle cx="248.0" cy="96.5" r="1.85"/>
<circle cx="241.5" cy="107.5" r="1.85"/>
<circle cx="238.0" cy="116.0" r="1.85"/>
<circle cx="232.5" cy="117.5" r="1.85"/>
<circle cx="230.5" cy="121.5" r="1.85"/>
<circle cx="244.5" cy="127.0" r="1.85"/>
<circle cx="229.5" cy="131.0" r="1.85"/>
<circle cx="209.4" cy="113.7" r="1.85"/>
<circle cx="216.7" cy="115.6" r="1.85"/>
<circle cx="219.0" cy="121.3" r="1.85"/>
<circle cx="221.0" cy="107.0" r="1.85"/>
<circle cx="223.8" cy="105.0" r="1.85"/>
<circle cx="227.7" cy="103.5" r="1.85"/>
<circle cx="225.8" cy="117.5" r="1.85"/>
<circle cx="122.0" cy="85.0" r="1.85"/>
<circle cx="126.0" cy="88.0" r="1.85"/>
<circle cx="124.5" cy="95.0" r="1.85"/>
<circle cx="118.0" cy="98.0" r="1.85"/>
<circle cx="186.0" cy="95.0" r="1.85"/>
<circle cx="190.0" cy="97.0" r="1.85"/>
<circle cx="200.0" cy="96.0" r="1.85"/>
<circle cx="207.0" cy="99.0" r="1.85"/>
<circle cx="212.0" cy="101.0" r="1.85"/>
</g>
<circle cx="250.4" cy="65.4" r="2.3" fill="#38a3dc"/>
<circle cx="210.8" cy="77.7" r="2.3" fill="#38a3dc"/>
<circle cx="79.5" cy="115.8" r="2.3" fill="#38a3dc"/>
<text x="233.80" y="52.70" font-size="10.80" stroke="#000" stroke-width="0.18" textLength="25.00" lengthAdjust="spacingAndGlyphs" xml:space="preserve"><tspan font-style="italic">GLI2</tspan></text>
<text x="195.00" y="65.40" font-size="10.80" stroke="#000" stroke-width="0.18" textLength="29.40" lengthAdjust="spacingAndGlyphs" xml:space="preserve"><tspan font-style="italic">IL1R1</tspan></text>
<text x="58.00" y="132.50" font-size="10.80" stroke="#000" stroke-width="0.18" textLength="27.00" lengthAdjust="spacingAndGlyphs" xml:space="preserve"><tspan font-style="italic">ST18</tspan></text>
<line x1="250.40" y1="55.50" x2="250.40" y2="62.60" stroke="#000" stroke-width="0.7"/>
<polygon points="250.40,62.60 249.35,60.67 251.45,60.67" fill="#000"/>
<line x1="210.60" y1="68.30" x2="210.60" y2="75.20" stroke="#000" stroke-width="0.7"/>
<polygon points="210.60,75.20 209.55,73.27 211.65,73.27" fill="#000"/>
<line x1="74.50" y1="122.50" x2="78.20" y2="117.60" stroke="#000" stroke-width="0.7"/>
<polygon points="78.20,117.60 77.88,119.78 76.19,118.51" fill="#000"/>
<line x1="43.00" y1="133.50" x2="260.00" y2="133.50" stroke="#333" stroke-width="0.9" stroke-dasharray="2.2,1.5"/>
<line x1="129.30" y1="18.50" x2="129.30" y2="133.50" stroke="#333" stroke-width="0.8" stroke-dasharray="2,1.5"/>
<line x1="180.70" y1="18.50" x2="180.70" y2="133.50" stroke="#333" stroke-width="0.8" stroke-dasharray="2,1.5"/>
<line x1="129.30" y1="133.50" x2="129.30" y2="186.60" stroke="#444" stroke-width="0.9"/>
<line x1="180.70" y1="133.50" x2="180.70" y2="186.60" stroke="#444" stroke-width="0.9"/>
<line x1="42.90" y1="19.00" x2="42.90" y2="187.30" stroke="#000" stroke-width="1.5"/>
<line x1="42.20" y1="186.60" x2="260.50" y2="186.60" stroke="#000" stroke-width="1.5"/>
<line x1="39.20" y1="183.30" x2="43.00" y2="183.30" stroke="#000" stroke-width="1.3"/>
<text x="37.20" y="186.40" font-size="8.80" text-anchor="end" stroke="#000" stroke-width="0.18" textLength="12.80" lengthAdjust="spacingAndGlyphs" xml:space="preserve">0.0</text>
<line x1="39.20" y1="144.80" x2="43.00" y2="144.80" stroke="#000" stroke-width="1.3"/>
<text x="37.20" y="147.90" font-size="8.80" text-anchor="end" stroke="#000" stroke-width="0.18" textLength="12.80" lengthAdjust="spacingAndGlyphs" xml:space="preserve">1.0</text>
<line x1="39.20" y1="106.30" x2="43.00" y2="106.30" stroke="#000" stroke-width="1.3"/>
<text x="37.20" y="109.40" font-size="8.80" text-anchor="end" stroke="#000" stroke-width="0.18" textLength="12.80" lengthAdjust="spacingAndGlyphs" xml:space="preserve">2.0</text>
<line x1="39.20" y1="67.80" x2="43.00" y2="67.80" stroke="#000" stroke-width="1.3"/>
<text x="37.20" y="70.90" font-size="8.80" text-anchor="end" stroke="#000" stroke-width="0.18" textLength="12.80" lengthAdjust="spacingAndGlyphs" xml:space="preserve">3.0</text>
<line x1="39.20" y1="29.30" x2="43.00" y2="29.30" stroke="#000" stroke-width="1.3"/>
<text x="37.20" y="32.40" font-size="8.80" text-anchor="end" stroke="#000" stroke-width="0.18" textLength="12.80" lengthAdjust="spacingAndGlyphs" xml:space="preserve">4.0</text>
<line x1="52.20" y1="186.60" x2="52.20" y2="190.30" stroke="#000" stroke-width="1.2"/>
<line x1="65.05" y1="186.60" x2="65.05" y2="190.30" stroke="#000" stroke-width="1.2"/>
<line x1="77.90" y1="186.60" x2="77.90" y2="190.30" stroke="#000" stroke-width="1.2"/>
<line x1="90.75" y1="186.60" x2="90.75" y2="190.30" stroke="#000" stroke-width="1.2"/>
<line x1="103.60" y1="186.60" x2="103.60" y2="190.30" stroke="#000" stroke-width="1.2"/>
<line x1="116.45" y1="186.60" x2="116.45" y2="190.30" stroke="#000" stroke-width="1.2"/>
<line x1="129.30" y1="186.60" x2="129.30" y2="190.30" stroke="#000" stroke-width="1.2"/>
<line x1="142.15" y1="186.60" x2="142.15" y2="190.30" stroke="#000" stroke-width="1.2"/>
<line x1="155.00" y1="186.60" x2="155.00" y2="190.30" stroke="#000" stroke-width="1.2"/>
<line x1="167.85" y1="186.60" x2="167.85" y2="190.30" stroke="#000" stroke-width="1.2"/>
<line x1="180.70" y1="186.60" x2="180.70" y2="190.30" stroke="#000" stroke-width="1.2"/>
<line x1="193.55" y1="186.60" x2="193.55" y2="190.30" stroke="#000" stroke-width="1.2"/>
<line x1="206.40" y1="186.60" x2="206.40" y2="190.30" stroke="#000" stroke-width="1.2"/>
<line x1="219.25" y1="186.60" x2="219.25" y2="190.30" stroke="#000" stroke-width="1.2"/>
<line x1="232.10" y1="186.60" x2="232.10" y2="190.30" stroke="#000" stroke-width="1.2"/>
<line x1="244.95" y1="186.60" x2="244.95" y2="190.30" stroke="#000" stroke-width="1.2"/>
<line x1="257.80" y1="186.60" x2="257.80" y2="190.30" stroke="#000" stroke-width="1.2"/>
<text x="51.90" y="199.90" font-size="8.60" text-anchor="middle" stroke="#000" stroke-width="0.18" textLength="10.80" lengthAdjust="spacingAndGlyphs" xml:space="preserve">−4</text>
<text x="77.60" y="199.90" font-size="8.60" text-anchor="middle" stroke="#000" stroke-width="0.18" textLength="10.80" lengthAdjust="spacingAndGlyphs" xml:space="preserve">−3</text>
<text x="103.30" y="199.90" font-size="8.60" text-anchor="middle" stroke="#000" stroke-width="0.18" textLength="10.80" lengthAdjust="spacingAndGlyphs" xml:space="preserve">−2</text>
<text x="129.00" y="199.90" font-size="8.60" text-anchor="middle" stroke="#000" stroke-width="0.18" textLength="10.80" lengthAdjust="spacingAndGlyphs" xml:space="preserve">−1</text>
<text x="155.00" y="199.90" font-size="8.60" text-anchor="middle" stroke="#000" stroke-width="0.18" textLength="4.56" lengthAdjust="spacingAndGlyphs" xml:space="preserve">0</text>
<text x="180.70" y="199.90" font-size="8.60" text-anchor="middle" stroke="#000" stroke-width="0.18" textLength="4.56" lengthAdjust="spacingAndGlyphs" xml:space="preserve">1</text>
<text x="206.40" y="199.90" font-size="8.60" text-anchor="middle" stroke="#000" stroke-width="0.18" textLength="4.56" lengthAdjust="spacingAndGlyphs" xml:space="preserve">2</text>
<text x="232.10" y="199.90" font-size="8.60" text-anchor="middle" stroke="#000" stroke-width="0.18" textLength="4.56" lengthAdjust="spacingAndGlyphs" xml:space="preserve">3</text>
<text x="257.80" y="199.90" font-size="8.60" text-anchor="middle" stroke="#000" stroke-width="0.18" textLength="4.56" lengthAdjust="spacingAndGlyphs" xml:space="preserve">4</text>
<text x="83.80" y="212.70" font-size="9.60" stroke="#000" stroke-width="0.18" textLength="136.00" lengthAdjust="spacingAndGlyphs" xml:space="preserve">Log2 (Fold change) short vs. long EFS</text>
<text x="17.10" y="132.80" font-size="10.00" stroke="#000" stroke-width="0.18" textLength="59.00" lengthAdjust="spacingAndGlyphs" transform="rotate(-90 17.10 132.80)" xml:space="preserve">−Log10(P-value)</text>
<text x="269.30" y="19.60" font-size="14.00" font-weight="bold" textLength="9.30" lengthAdjust="spacingAndGlyphs" xml:space="preserve">B</text>
<line x1="308.20" y1="22.60" x2="308.20" y2="96.00" stroke="#000" stroke-width="1.5"/>
<line x1="307.50" y1="95.30" x2="380.00" y2="95.30" stroke="#000" stroke-width="1.5"/>
<line x1="328.20" y1="95.30" x2="328.20" y2="98.30" stroke="#000" stroke-width="1.1"/>
<line x1="359.40" y1="95.30" x2="359.40" y2="98.30" stroke="#000" stroke-width="1.1"/>
<line x1="304.50" y1="23.20" x2="308.20" y2="23.20" stroke="#000" stroke-width="1.1"/>
<text x="300.80" y="25.70" font-size="7.60" text-anchor="end" stroke="#000" stroke-width="0.18" textLength="9.20" lengthAdjust="spacingAndGlyphs" xml:space="preserve">10</text>
<line x1="304.50" y1="31.20" x2="308.20" y2="31.20" stroke="#000" stroke-width="1.1"/>
<text x="300.80" y="33.70" font-size="7.60" text-anchor="end" stroke="#000" stroke-width="0.18" textLength="4.60" lengthAdjust="spacingAndGlyphs" xml:space="preserve">8</text>
<line x1="304.50" y1="39.20" x2="308.20" y2="39.20" stroke="#000" stroke-width="1.1"/>
<text x="300.80" y="41.70" font-size="7.60" text-anchor="end" stroke="#000" stroke-width="0.18" textLength="4.60" lengthAdjust="spacingAndGlyphs" xml:space="preserve">6</text>
<line x1="304.50" y1="47.20" x2="308.20" y2="47.20" stroke="#000" stroke-width="1.1"/>
<text x="300.80" y="49.70" font-size="7.60" text-anchor="end" stroke="#000" stroke-width="0.18" textLength="4.60" lengthAdjust="spacingAndGlyphs" xml:space="preserve">4</text>
<line x1="304.50" y1="55.20" x2="308.20" y2="55.20" stroke="#000" stroke-width="1.1"/>
<text x="300.80" y="57.70" font-size="7.60" text-anchor="end" stroke="#000" stroke-width="0.18" textLength="4.60" lengthAdjust="spacingAndGlyphs" xml:space="preserve">2</text>
<line x1="304.50" y1="63.20" x2="308.20" y2="63.20" stroke="#000" stroke-width="1.1"/>
<text x="300.80" y="65.70" font-size="7.60" text-anchor="end" stroke="#000" stroke-width="0.18" textLength="4.60" lengthAdjust="spacingAndGlyphs" xml:space="preserve">0</text>
<line x1="304.50" y1="71.20" x2="308.20" y2="71.20" stroke="#000" stroke-width="1.1"/>
<text x="300.80" y="73.70" font-size="7.60" text-anchor="end" stroke="#000" stroke-width="0.18" textLength="8.90" lengthAdjust="spacingAndGlyphs" xml:space="preserve">−2</text>
<line x1="304.50" y1="79.20" x2="308.20" y2="79.20" stroke="#000" stroke-width="1.1"/>
<text x="300.80" y="81.70" font-size="7.60" text-anchor="end" stroke="#000" stroke-width="0.18" textLength="8.90" lengthAdjust="spacingAndGlyphs" xml:space="preserve">−4</text>
<line x1="304.50" y1="87.20" x2="308.20" y2="87.20" stroke="#000" stroke-width="1.1"/>
<text x="300.80" y="89.70" font-size="7.60" text-anchor="end" stroke="#000" stroke-width="0.18" textLength="8.90" lengthAdjust="spacingAndGlyphs" xml:space="preserve">−6</text>
<line x1="304.50" y1="95.20" x2="308.20" y2="95.20" stroke="#000" stroke-width="1.1"/>
<text x="300.80" y="97.70" font-size="7.60" text-anchor="end" stroke="#000" stroke-width="0.18" textLength="8.90" lengthAdjust="spacingAndGlyphs" xml:space="preserve">−8</text>
<line x1="328.50" y1="41.70" x2="328.50" y2="68.60" stroke="#c8002a" stroke-width="0.8" stroke-opacity="0.75"/>
<line x1="323.30" y1="41.70" x2="333.70" y2="41.70" stroke="#c8002a" stroke-width="0.8" stroke-opacity="0.75"/>
<line x1="323.30" y1="68.60" x2="333.70" y2="68.60" stroke="#c8002a" stroke-width="0.8" stroke-opacity="0.75"/>
<line x1="318.30" y1="55.20" x2="338.70" y2="55.20" stroke="#c8002a" stroke-width="0.9" stroke-opacity="0.85"/>
<line x1="359.20" y1="56.60" x2="359.20" y2="77.60" stroke="#0a3a78" stroke-width="0.8" stroke-opacity="0.75"/>
<line x1="354.30" y1="56.60" x2="364.10" y2="56.60" stroke="#0a3a78" stroke-width="0.8" stroke-opacity="0.75"/>
<line x1="354.30" y1="77.60" x2="364.10" y2="77.60" stroke="#0a3a78" stroke-width="0.8" stroke-opacity="0.75"/>
<line x1="349.40" y1="67.00" x2="369.00" y2="67.00" stroke="#0a3a78" stroke-width="0.9" stroke-opacity="0.85"/>
<circle cx="328.5" cy="29.2" r="1.3" fill="#c8002a"/>
<circle cx="330.0" cy="32.8" r="1.3" fill="#c8002a"/>
<circle cx="326.7" cy="35.2" r="1.3" fill="#c8002a"/>
<circle cx="326.7" cy="41.7" r="1.3" fill="#c8002a"/>
<circle cx="330.0" cy="41.7" r="1.3" fill="#c8002a"/>
<circle cx="328.5" cy="50.4" r="1.3" fill="#c8002a"/>
<circle cx="330.0" cy="58.5" r="1.3" fill="#c8002a"/>
<circle cx="322.0" cy="61.2" r="1.3" fill="#c8002a"/>
<circle cx="325.2" cy="61.2" r="1.3" fill="#c8002a"/>
<circle cx="328.5" cy="61.2" r="1.3" fill="#c8002a"/>
<circle cx="333.5" cy="61.2" r="1.3" fill="#c8002a"/>
<circle cx="337.0" cy="61.2" r="1.3" fill="#c8002a"/>
<circle cx="325.2" cy="65.0" r="1.3" fill="#c8002a"/>
<circle cx="331.5" cy="65.0" r="1.3" fill="#c8002a"/>
<circle cx="324.3" cy="68.0" r="1.3" fill="#c8002a"/>
<circle cx="328.5" cy="68.0" r="1.3" fill="#c8002a"/>
<circle cx="332.3" cy="68.0" r="1.3" fill="#c8002a"/>
<circle cx="330.0" cy="69.6" r="1.3" fill="#c8002a"/>
<circle cx="326.7" cy="71.6" r="1.3" fill="#c8002a"/>
<rect x="357.9" y="25.8" width="2.5" height="2.5" fill="#0a3a78"/>
<rect x="357.9" y="50.1" width="2.5" height="2.5" fill="#0a3a78"/>
<rect x="357.9" y="57.5" width="2.5" height="2.5" fill="#0a3a78"/>
<rect x="352.6" y="60.5" width="2.5" height="2.5" fill="#0a3a78"/>
<rect x="356.1" y="62.5" width="2.5" height="2.5" fill="#0a3a78"/>
<rect x="359.4" y="63.8" width="2.5" height="2.5" fill="#0a3a78"/>
<rect x="362.8" y="62.0" width="2.5" height="2.5" fill="#0a3a78"/>
<rect x="349.6" y="66.7" width="2.5" height="2.5" fill="#0a3a78"/>
<rect x="352.9" y="67.2" width="2.5" height="2.5" fill="#0a3a78"/>
<rect x="362.8" y="67.0" width="2.5" height="2.5" fill="#0a3a78"/>
<rect x="366.2" y="66.7" width="2.5" height="2.5" fill="#0a3a78"/>
<rect x="356.1" y="69.2" width="2.5" height="2.5" fill="#0a3a78"/>
<rect x="359.4" y="68.7" width="2.5" height="2.5" fill="#0a3a78"/>
<rect x="348.9" y="70.0" width="2.5" height="2.5" fill="#0a3a78"/>
<rect x="351.2" y="70.5" width="2.5" height="2.5" fill="#0a3a78"/>
<rect x="353.9" y="71.2" width="2.5" height="2.5" fill="#0a3a78"/>
<rect x="357.4" y="71.0" width="2.5" height="2.5" fill="#0a3a78"/>
<rect x="360.4" y="70.7" width="2.5" height="2.5" fill="#0a3a78"/>
<rect x="363.4" y="70.3" width="2.5" height="2.5" fill="#0a3a78"/>
<rect x="366.6" y="70.0" width="2.5" height="2.5" fill="#0a3a78"/>
<rect x="357.6" y="73.5" width="2.5" height="2.5" fill="#0a3a78"/>
<rect x="356.1" y="77.0" width="2.5" height="2.5" fill="#0a3a78"/>
<rect x="359.6" y="76.8" width="2.5" height="2.5" fill="#0a3a78"/>
<line x1="328.70" y1="18.60" x2="359.60" y2="18.60" stroke="#000" stroke-width="1.1"/>
<line x1="328.70" y1="17.40" x2="328.70" y2="20.40" stroke="#000" stroke-width="1.1"/>
<line x1="359.60" y1="17.40" x2="359.60" y2="20.40" stroke="#000" stroke-width="1.1"/>
<text x="344.25" y="14.20" font-size="8.00" text-anchor="middle" stroke="#000" stroke-width="0.18" textLength="37.70" lengthAdjust="spacingAndGlyphs" xml:space="preserve">P = 0.0001</text>
<text x="289.20" y="59.20" font-size="8.20" text-anchor="middle" stroke="#000" stroke-width="0.18" textLength="63.70" lengthAdjust="spacingAndGlyphs" transform="rotate(-90 289.20 59.20)" xml:space="preserve"><tspan font-style="italic">GLI2</tspan> expression (log2)</text>
<text x="324.20" y="107.60" font-size="8.30" text-anchor="middle" stroke="#000" stroke-width="0.18" textLength="34.60" lengthAdjust="spacingAndGlyphs" xml:space="preserve">Short EFS</text>
<text x="365.35" y="107.60" font-size="8.30" text-anchor="middle" stroke="#000" stroke-width="0.18" textLength="32.70" lengthAdjust="spacingAndGlyphs" xml:space="preserve">Long EFS</text>
<line x1="420.00" y1="22.20" x2="420.00" y2="95.10" stroke="#000" stroke-width="1.5"/>
<line x1="419.30" y1="94.40" x2="495.00" y2="94.40" stroke="#000" stroke-width="1.5"/>
<line x1="443.60" y1="94.40" x2="443.60" y2="97.40" stroke="#000" stroke-width="1.1"/>
<line x1="474.40" y1="94.40" x2="474.40" y2="97.40" stroke="#000" stroke-width="1.1"/>
<line x1="416.30" y1="22.50" x2="420.00" y2="22.50" stroke="#000" stroke-width="1.1"/>
<text x="412.60" y="25.00" font-size="7.60" text-anchor="end" stroke="#000" stroke-width="0.18" textLength="4.60" lengthAdjust="spacingAndGlyphs" xml:space="preserve">6</text>
<line x1="416.30" y1="34.50" x2="420.00" y2="34.50" stroke="#000" stroke-width="1.1"/>
<text x="412.60" y="37.00" font-size="7.60" text-anchor="end" stroke="#000" stroke-width="0.18" textLength="4.60" lengthAdjust="spacingAndGlyphs" xml:space="preserve">4</text>
<line x1="416.30" y1="46.50" x2="420.00" y2="46.50" stroke="#000" stroke-width="1.1"/>
<text x="412.60" y="49.00" font-size="7.60" text-anchor="end" stroke="#000" stroke-width="0.18" textLength="4.60" lengthAdjust="spacingAndGlyphs" xml:space="preserve">2</text>
<line x1="416.30" y1="58.50" x2="420.00" y2="58.50" stroke="#000" stroke-width="1.1"/>
<text x="412.60" y="61.00" font-size="7.60" text-anchor="end" stroke="#000" stroke-width="0.18" textLength="4.60" lengthAdjust="spacingAndGlyphs" xml:space="preserve">0</text>
<line x1="416.30" y1="70.50" x2="420.00" y2="70.50" stroke="#000" stroke-width="1.1"/>
<text x="412.60" y="73.00" font-size="7.60" text-anchor="end" stroke="#000" stroke-width="0.18" textLength="8.90" lengthAdjust="spacingAndGlyphs" xml:space="preserve">−2</text>
<line x1="416.30" y1="82.50" x2="420.00" y2="82.50" stroke="#000" stroke-width="1.1"/>
<text x="412.60" y="85.00" font-size="7.60" text-anchor="end" stroke="#000" stroke-width="0.18" textLength="8.90" lengthAdjust="spacingAndGlyphs" xml:space="preserve">−4</text>
<line x1="416.30" y1="94.50" x2="420.00" y2="94.50" stroke="#000" stroke-width="1.1"/>
<text x="412.60" y="97.00" font-size="7.60" text-anchor="end" stroke="#000" stroke-width="0.18" textLength="8.90" lengthAdjust="spacingAndGlyphs" xml:space="preserve">−6</text>
<line x1="443.50" y1="40.40" x2="443.50" y2="62.00" stroke="#c8002a" stroke-width="0.8" stroke-opacity="0.75"/>
<line x1="438.40" y1="40.40" x2="448.60" y2="40.40" stroke="#c8002a" stroke-width="0.8" stroke-opacity="0.75"/>
<line x1="438.40" y1="62.00" x2="448.60" y2="62.00" stroke="#c8002a" stroke-width="0.8" stroke-opacity="0.75"/>
<line x1="433.50" y1="51.40" x2="453.50" y2="51.40" stroke="#c8002a" stroke-width="0.9" stroke-opacity="0.85"/>
<line x1="474.40" y1="50.70" x2="474.40" y2="73.20" stroke="#0a3a78" stroke-width="0.8" stroke-opacity="0.75"/>
<line x1="469.60" y1="50.70" x2="479.20" y2="50.70" stroke="#0a3a78" stroke-width="0.8" stroke-opacity="0.75"/>
<line x1="469.60" y1="73.20" x2="479.20" y2="73.20" stroke="#0a3a78" stroke-width="0.8" stroke-opacity="0.75"/>
<line x1="464.40" y1="61.70" x2="484.40" y2="61.70" stroke="#0a3a78" stroke-width="0.9" stroke-opacity="0.85"/>
<circle cx="441.9" cy="34.3" r="1.3" fill="#c8002a"/>
<circle cx="445.3" cy="34.3" r="1.3" fill="#c8002a"/>
<circle cx="436.8" cy="42.8" r="1.3" fill="#c8002a"/>
<circle cx="440.1" cy="43.9" r="1.3" fill="#c8002a"/>
<circle cx="446.8" cy="45.0" r="1.3" fill="#c8002a"/>
<circle cx="450.2" cy="43.5" r="1.3" fill="#c8002a"/>
<circle cx="443.3" cy="46.1" r="1.3" fill="#c8002a"/>
<circle cx="441.9" cy="47.1" r="1.3" fill="#c8002a"/>
<circle cx="445.0" cy="49.8" r="1.3" fill="#c8002a"/>
<circle cx="438.4" cy="51.4" r="1.3" fill="#c8002a"/>
<circle cx="448.6" cy="51.1" r="1.3" fill="#c8002a"/>
<circle cx="441.9" cy="53.9" r="1.3" fill="#c8002a"/>
<circle cx="445.3" cy="53.9" r="1.3" fill="#c8002a"/>
<circle cx="440.1" cy="61.8" r="1.3" fill="#c8002a"/>
<circle cx="443.5" cy="62.0" r="1.3" fill="#c8002a"/>
<circle cx="446.8" cy="60.9" r="1.3" fill="#c8002a"/>
<circle cx="441.9" cy="72.0" r="1.3" fill="#c8002a"/>
<circle cx="445.3" cy="70.0" r="1.3" fill="#c8002a"/>
<rect x="469.6" y="41.5" width="2.5" height="2.5" fill="#0a3a78"/>
<rect x="473.1" y="42.5" width="2.5" height="2.5" fill="#0a3a78"/>
<rect x="476.6" y="41.8" width="2.5" height="2.5" fill="#0a3a78"/>
<rect x="469.6" y="50.0" width="2.5" height="2.5" fill="#0a3a78"/>
<rect x="476.4" y="49.8" width="2.5" height="2.5" fill="#0a3a78"/>
<rect x="473.1" y="51.1" width="2.5" height="2.5" fill="#0a3a78"/>
<rect x="474.4" y="52.5" width="2.5" height="2.5" fill="#0a3a78"/>
<rect x="467.9" y="56.0" width="2.5" height="2.5" fill="#0a3a78"/>
<rect x="469.6" y="55.5" width="2.5" height="2.5" fill="#0a3a78"/>
<rect x="479.9" y="56.0" width="2.5" height="2.5" fill="#0a3a78"/>
<rect x="471.6" y="58.0" width="2.5" height="2.5" fill="#0a3a78"/>
<rect x="476.6" y="58.5" width="2.5" height="2.5" fill="#0a3a78"/>
<rect x="474.4" y="60.6" width="2.5" height="2.5" fill="#0a3a78"/>
<rect x="471.6" y="63.5" width="2.5" height="2.5" fill="#0a3a78"/>
<rect x="466.4" y="66.8" width="2.5" height="2.5" fill="#0a3a78"/>
<rect x="469.6" y="67.5" width="2.5" height="2.5" fill="#0a3a78"/>
<rect x="473.1" y="67.8" width="2.5" height="2.5" fill="#0a3a78"/>
<rect x="476.6" y="67.2" width="2.5" height="2.5" fill="#0a3a78"/>
<rect x="479.9" y="65.5" width="2.5" height="2.5" fill="#0a3a78"/>
<rect x="474.4" y="71.8" width="2.5" height="2.5" fill="#0a3a78"/>
<rect x="469.6" y="73.0" width="2.5" height="2.5" fill="#0a3a78"/>
<rect x="471.4" y="75.3" width="2.5" height="2.5" fill="#0a3a78"/>
<rect x="474.6" y="78.0" width="2.5" height="2.5" fill="#0a3a78"/>
<rect x="473.1" y="82.7" width="2.5" height="2.5" fill="#0a3a78"/>
<line x1="442.50" y1="18.80" x2="474.50" y2="18.80" stroke="#000" stroke-width="1.1"/>
<line x1="442.50" y1="17.60" x2="442.50" y2="20.60" stroke="#000" stroke-width="1.1"/>
<line x1="474.50" y1="17.60" x2="474.50" y2="20.60" stroke="#000" stroke-width="1.1"/>
<text x="458.70" y="14.20" font-size="8.00" text-anchor="middle" stroke="#000" stroke-width="0.18" textLength="37.70" lengthAdjust="spacingAndGlyphs" xml:space="preserve">P = 0.0096</text>
<text x="401.60" y="55.20" font-size="8.20" text-anchor="middle" stroke="#000" stroke-width="0.18" textLength="62.00" lengthAdjust="spacingAndGlyphs" transform="rotate(-90 401.60 55.20)" xml:space="preserve"><tspan font-style="italic">IL1R1</tspan> expression (log2)</text>
<text x="439.60" y="107.70" font-size="8.30" text-anchor="middle" stroke="#000" stroke-width="0.18" textLength="34.60" lengthAdjust="spacingAndGlyphs" xml:space="preserve">Short EFS</text>
<text x="481.00" y="107.70" font-size="8.30" text-anchor="middle" stroke="#000" stroke-width="0.18" textLength="32.70" lengthAdjust="spacingAndGlyphs" xml:space="preserve">Long EFS</text>
<line x1="308.50" y1="130.00" x2="308.50" y2="203.00" stroke="#000" stroke-width="1.5"/>
<line x1="307.80" y1="202.30" x2="380.50" y2="202.30" stroke="#000" stroke-width="1.5"/>
<line x1="329.10" y1="202.30" x2="329.10" y2="205.30" stroke="#000" stroke-width="1.1"/>
<line x1="360.10" y1="202.30" x2="360.10" y2="205.30" stroke="#000" stroke-width="1.1"/>
<line x1="304.80" y1="130.60" x2="308.50" y2="130.60" stroke="#000" stroke-width="1.1"/>
<text x="301.10" y="133.10" font-size="7.60" text-anchor="end" stroke="#000" stroke-width="0.18" textLength="9.20" lengthAdjust="spacingAndGlyphs" xml:space="preserve">10</text>
<line x1="304.80" y1="138.60" x2="308.50" y2="138.60" stroke="#000" stroke-width="1.1"/>
<text x="301.10" y="141.10" font-size="7.60" text-anchor="end" stroke="#000" stroke-width="0.18" textLength="4.60" lengthAdjust="spacingAndGlyphs" xml:space="preserve">8</text>
<line x1="304.80" y1="146.60" x2="308.50" y2="146.60" stroke="#000" stroke-width="1.1"/>
<text x="301.10" y="149.10" font-size="7.60" text-anchor="end" stroke="#000" stroke-width="0.18" textLength="4.60" lengthAdjust="spacingAndGlyphs" xml:space="preserve">6</text>
<line x1="304.80" y1="154.60" x2="308.50" y2="154.60" stroke="#000" stroke-width="1.1"/>
<text x="301.10" y="157.10" font-size="7.60" text-anchor="end" stroke="#000" stroke-width="0.18" textLength="4.60" lengthAdjust="spacingAndGlyphs" xml:space="preserve">4</text>
<line x1="304.80" y1="162.60" x2="308.50" y2="162.60" stroke="#000" stroke-width="1.1"/>
<text x="301.10" y="165.10" font-size="7.60" text-anchor="end" stroke="#000" stroke-width="0.18" textLength="4.60" lengthAdjust="spacingAndGlyphs" xml:space="preserve">2</text>
<line x1="304.80" y1="170.60" x2="308.50" y2="170.60" stroke="#000" stroke-width="1.1"/>
<text x="301.10" y="173.10" font-size="7.60" text-anchor="end" stroke="#000" stroke-width="0.18" textLength="4.60" lengthAdjust="spacingAndGlyphs" xml:space="preserve">0</text>
<line x1="304.80" y1="178.60" x2="308.50" y2="178.60" stroke="#000" stroke-width="1.1"/>
<text x="301.10" y="181.10" font-size="7.60" text-anchor="end" stroke="#000" stroke-width="0.18" textLength="8.90" lengthAdjust="spacingAndGlyphs" xml:space="preserve">−2</text>
<line x1="304.80" y1="186.60" x2="308.50" y2="186.60" stroke="#000" stroke-width="1.1"/>
<text x="301.10" y="189.10" font-size="7.60" text-anchor="end" stroke="#000" stroke-width="0.18" textLength="8.90" lengthAdjust="spacingAndGlyphs" xml:space="preserve">−4</text>
<line x1="304.80" y1="194.60" x2="308.50" y2="194.60" stroke="#000" stroke-width="1.1"/>
<text x="301.10" y="197.10" font-size="7.60" text-anchor="end" stroke="#000" stroke-width="0.18" textLength="8.90" lengthAdjust="spacingAndGlyphs" xml:space="preserve">−6</text>
<line x1="304.80" y1="202.60" x2="308.50" y2="202.60" stroke="#000" stroke-width="1.1"/>
<text x="301.10" y="205.10" font-size="7.60" text-anchor="end" stroke="#000" stroke-width="0.18" textLength="8.90" lengthAdjust="spacingAndGlyphs" xml:space="preserve">−8</text>
<line x1="328.90" y1="162.40" x2="328.90" y2="188.30" stroke="#c8002a" stroke-width="0.8" stroke-opacity="0.75"/>
<line x1="323.70" y1="162.40" x2="334.10" y2="162.40" stroke="#c8002a" stroke-width="0.8" stroke-opacity="0.75"/>
<line x1="323.70" y1="188.30" x2="334.10" y2="188.30" stroke="#c8002a" stroke-width="0.8" stroke-opacity="0.75"/>
<line x1="318.90" y1="175.40" x2="338.90" y2="175.40" stroke="#c8002a" stroke-width="0.9" stroke-opacity="0.85"/>
<line x1="359.80" y1="153.20" x2="359.80" y2="179.90" stroke="#0a3a78" stroke-width="0.8" stroke-opacity="0.75"/>
<line x1="355.00" y1="153.20" x2="364.60" y2="153.20" stroke="#0a3a78" stroke-width="0.8" stroke-opacity="0.75"/>
<line x1="355.00" y1="179.90" x2="364.60" y2="179.90" stroke="#0a3a78" stroke-width="0.8" stroke-opacity="0.75"/>
<line x1="349.70" y1="166.30" x2="369.90" y2="166.30" stroke="#0a3a78" stroke-width="0.9" stroke-opacity="0.85"/>
<circle cx="328.9" cy="146.3" r="1.3" fill="#c8002a"/>
<circle cx="327.1" cy="162.4" r="1.3" fill="#c8002a"/>
<circle cx="330.6" cy="163.8" r="1.3" fill="#c8002a"/>
<circle cx="325.6" cy="168.9" r="1.3" fill="#c8002a"/>
<circle cx="328.9" cy="170.6" r="1.3" fill="#c8002a"/>
<circle cx="332.3" cy="169.9" r="1.3" fill="#c8002a"/>
<circle cx="325.6" cy="177.0" r="1.3" fill="#c8002a"/>
<circle cx="328.9" cy="177.4" r="1.3" fill="#c8002a"/>
<circle cx="332.3" cy="177.0" r="1.3" fill="#c8002a"/>
<circle cx="325.6" cy="181.1" r="1.3" fill="#c8002a"/>
<circle cx="328.9" cy="183.7" r="1.3" fill="#c8002a"/>
<circle cx="332.3" cy="182.6" r="1.3" fill="#c8002a"/>
<circle cx="325.6" cy="187.5" r="1.3" fill="#c8002a"/>
<circle cx="328.9" cy="187.5" r="1.3" fill="#c8002a"/>
<circle cx="332.3" cy="186.4" r="1.3" fill="#c8002a"/>
<circle cx="327.1" cy="191.6" r="1.3" fill="#c8002a"/>
<circle cx="330.7" cy="191.2" r="1.3" fill="#c8002a"/>
<rect x="358.6" y="146.6" width="2.5" height="2.5" fill="#0a3a78"/>
<rect x="353.4" y="149.7" width="2.5" height="2.5" fill="#0a3a78"/>
<rect x="356.9" y="150.8" width="2.5" height="2.5" fill="#0a3a78"/>
<rect x="360.2" y="151.4" width="2.5" height="2.5" fill="#0a3a78"/>
<rect x="363.6" y="150.2" width="2.5" height="2.5" fill="#0a3a78"/>
<rect x="353.4" y="155.9" width="2.5" height="2.5" fill="#0a3a78"/>
<rect x="356.6" y="156.7" width="2.5" height="2.5" fill="#0a3a78"/>
<rect x="359.9" y="156.6" width="2.5" height="2.5" fill="#0a3a78"/>
<rect x="363.6" y="154.7" width="2.5" height="2.5" fill="#0a3a78"/>
<rect x="353.4" y="164.9" width="2.5" height="2.5" fill="#0a3a78"/>
<rect x="356.6" y="165.8" width="2.5" height="2.5" fill="#0a3a78"/>
<rect x="359.9" y="167.2" width="2.5" height="2.5" fill="#0a3a78"/>
<rect x="363.6" y="165.7" width="2.5" height="2.5" fill="#0a3a78"/>
<rect x="350.1" y="172.8" width="2.5" height="2.5" fill="#0a3a78"/>
<rect x="353.4" y="173.7" width="2.5" height="2.5" fill="#0a3a78"/>
<rect x="356.6" y="174.7" width="2.5" height="2.5" fill="#0a3a78"/>
<rect x="359.9" y="173.8" width="2.5" height="2.5" fill="#0a3a78"/>
<rect x="363.6" y="173.3" width="2.5" height="2.5" fill="#0a3a78"/>
<rect x="366.9" y="172.8" width="2.5" height="2.5" fill="#0a3a78"/>
<rect x="356.9" y="181.8" width="2.5" height="2.5" fill="#0a3a78"/>
<rect x="361.8" y="183.6" width="2.5" height="2.5" fill="#0a3a78"/>
<rect x="360.1" y="186.7" width="2.5" height="2.5" fill="#0a3a78"/>
<rect x="356.9" y="189.8" width="2.5" height="2.5" fill="#0a3a78"/>
<rect x="327.6" y="151.2" width="2.5" height="2.5" rx="0.6" fill="#ff8000"/>
<rect x="358.6" y="141.3" width="2.5" height="2.5" rx="0.6" fill="#ff8000"/>
<line x1="328.70" y1="128.90" x2="360.20" y2="128.90" stroke="#000" stroke-width="1.1"/>
<line x1="328.70" y1="127.70" x2="328.70" y2="130.70" stroke="#000" stroke-width="1.1"/>
<line x1="360.20" y1="127.70" x2="360.20" y2="130.70" stroke="#000" stroke-width="1.1"/>
<text x="344.20" y="124.20" font-size="8.00" text-anchor="middle" stroke="#000" stroke-width="0.18" textLength="32.50" lengthAdjust="spacingAndGlyphs" xml:space="preserve">P = 0.027</text>
<text x="288.80" y="167.00" font-size="8.20" text-anchor="middle" stroke="#000" stroke-width="0.18" textLength="64.40" lengthAdjust="spacingAndGlyphs" transform="rotate(-90 288.80 167.00)" xml:space="preserve"><tspan font-style="italic">ST18</tspan> expression (log2)</text>
<text x="325.10" y="214.30" font-size="8.30" text-anchor="middle" stroke="#000" stroke-width="0.18" textLength="34.60" lengthAdjust="spacingAndGlyphs" xml:space="preserve">Short EFS</text>
<text x="366.65" y="214.30" font-size="8.30" text-anchor="middle" stroke="#000" stroke-width="0.18" textLength="32.70" lengthAdjust="spacingAndGlyphs" xml:space="preserve">Long EFS</text>
<text x="8.40" y="230.20" font-size="14.60" font-weight="bold" textLength="10.00" lengthAdjust="spacingAndGlyphs" xml:space="preserve">C</text>
<rect x="46.40" y="239.60" width="121.20" height="80.90" fill="none" stroke="#000" stroke-width="1.4"/>
<line x1="42.20" y1="320.50" x2="46.40" y2="320.50" stroke="#000" stroke-width="1.2"/>
<text x="39.80" y="323.20" font-size="7.70" text-anchor="end" stroke="#000" stroke-width="0.18" textLength="4.10" lengthAdjust="spacingAndGlyphs" xml:space="preserve">0</text>
<line x1="42.20" y1="302.12" x2="46.40" y2="302.12" stroke="#000" stroke-width="1.2"/>
<text x="39.80" y="304.82" font-size="7.70" text-anchor="end" stroke="#000" stroke-width="0.18" textLength="8.20" lengthAdjust="spacingAndGlyphs" xml:space="preserve">25</text>
<line x1="42.20" y1="283.75" x2="46.40" y2="283.75" stroke="#000" stroke-width="1.2"/>
<text x="39.80" y="286.45" font-size="7.70" text-anchor="end" stroke="#000" stroke-width="0.18" textLength="8.20" lengthAdjust="spacingAndGlyphs" xml:space="preserve">50</text>
<line x1="42.20" y1="265.38" x2="46.40" y2="265.38" stroke="#000" stroke-width="1.2"/>
<text x="39.80" y="268.07" font-size="7.70" text-anchor="end" stroke="#000" stroke-width="0.18" textLength="8.20" lengthAdjust="spacingAndGlyphs" xml:space="preserve">75</text>
<line x1="42.20" y1="247.00" x2="46.40" y2="247.00" stroke="#000" stroke-width="1.2"/>
<text x="39.80" y="249.70" font-size="7.70" text-anchor="end" stroke="#000" stroke-width="0.18" textLength="12.30" lengthAdjust="spacingAndGlyphs" xml:space="preserve">100</text>
<line x1="46.40" y1="320.50" x2="46.40" y2="324.10" stroke="#000" stroke-width="1.2"/>
<text x="46.70" y="333.50" font-size="7.70" text-anchor="middle" stroke="#000" stroke-width="0.18" textLength="4.30" lengthAdjust="spacingAndGlyphs" xml:space="preserve">0</text>
<line x1="65.52" y1="320.50" x2="65.52" y2="324.10" stroke="#000" stroke-width="1.2"/>
<text x="65.82" y="333.50" font-size="7.70" text-anchor="middle" stroke="#000" stroke-width="0.18" textLength="12.90" lengthAdjust="spacingAndGlyphs" xml:space="preserve">300</text>
<line x1="84.64" y1="320.50" x2="84.64" y2="324.10" stroke="#000" stroke-width="1.2"/>
<text x="84.94" y="333.50" font-size="7.70" text-anchor="middle" stroke="#000" stroke-width="0.18" textLength="12.90" lengthAdjust="spacingAndGlyphs" xml:space="preserve">600</text>
<line x1="103.76" y1="320.50" x2="103.76" y2="324.10" stroke="#000" stroke-width="1.2"/>
<text x="104.06" y="333.50" font-size="7.70" text-anchor="middle" stroke="#000" stroke-width="0.18" textLength="12.90" lengthAdjust="spacingAndGlyphs" xml:space="preserve">900</text>
<line x1="122.88" y1="320.50" x2="122.88" y2="324.10" stroke="#000" stroke-width="1.2"/>
<text x="123.18" y="333.50" font-size="7.70" text-anchor="middle" stroke="#000" stroke-width="0.18" textLength="18.00" lengthAdjust="spacingAndGlyphs" xml:space="preserve">1200</text>
<line x1="142.00" y1="320.50" x2="142.00" y2="324.10" stroke="#000" stroke-width="1.2"/>
<text x="142.30" y="333.50" font-size="7.70" text-anchor="middle" stroke="#000" stroke-width="0.18" textLength="18.00" lengthAdjust="spacingAndGlyphs" xml:space="preserve">1500</text>
<line x1="161.12" y1="320.50" x2="161.12" y2="324.10" stroke="#000" stroke-width="1.2"/>
<text x="161.42" y="333.50" font-size="7.70" text-anchor="middle" stroke="#000" stroke-width="0.18" textLength="18.00" lengthAdjust="spacingAndGlyphs" xml:space="preserve">1800</text>
<line x1="47.10" y1="283.75" x2="166.90" y2="283.75" stroke="#777" stroke-width="1.3" stroke-dasharray="2.6,1.6"/>
<polyline points="46.31,247.31 54.00,247.31 54.00,249.31 55.08,249.31 55.08,251.62 57.08,251.62 57.08,253.92 58.62,253.92 58.62,256.23 59.38,256.23 59.38,260.85 61.69,260.85 61.69,265.46 63.69,265.46 63.69,269.31 64.46,269.31 64.46,279.31 67.85,279.31 67.85,288.54 74.00,288.54 74.00,293.15 81.69,293.15 81.69,297.77 82.77,297.77 82.77,302.38 90.92,302.38 90.92,307.00 103.23,307.00 103.23,311.62 162.80,311.62" fill="none" stroke="#cc1236" stroke-width="1.25"/>
<line x1="162.80" y1="309.82" x2="162.80" y2="311.62" stroke="#cc1236" stroke-width="1.0"/>
<polyline points="46.31,247.31 53.54,247.31 53.54,248.54 55.54,248.54 55.54,250.08 57.54,250.08 57.54,252.08 58.62,252.08 58.62,253.92 60.15,253.92 60.15,255.77 61.69,255.77 61.69,257.77 63.23,257.77 63.23,259.31 64.77,259.31 64.77,260.85 69.38,260.85 69.38,262.38 70.15,262.38 70.15,264.69 70.92,264.69 70.92,269.31 71.69,269.31 71.69,272.38 72.46,272.38 72.46,275.46 73.23,275.46 73.23,277.77 77.08,277.77 77.08,280.08 78.62,280.08 78.62,281.62 84.77,281.62 84.77,283.15 87.08,283.15 87.08,284.69 88.62,284.69 88.62,286.54 102.46,286.54 102.46,289.31 124.60,289.31 124.60,292.30 162.80,292.30" fill="none" stroke="#1d5a9a" stroke-width="1.25"/>
<line x1="162.80" y1="290.50" x2="162.80" y2="292.30" stroke="#1d5a9a" stroke-width="1.0"/>
<line x1="107.30" y1="247.70" x2="120.00" y2="247.70" stroke="#1d5a9a" stroke-width="1.25"/>
<line x1="113.65" y1="246.00" x2="113.65" y2="247.70" stroke="#1d5a9a" stroke-width="0.9"/>
<text x="123.80" y="250.70" font-size="8.90" stroke="#000" stroke-width="0.18" textLength="33.94" lengthAdjust="spacingAndGlyphs" xml:space="preserve"><tspan font-style="italic">GLI2</tspan> low</text>
<line x1="107.30" y1="257.30" x2="120.00" y2="257.30" stroke="#cc1236" stroke-width="1.25"/>
<line x1="113.65" y1="255.60" x2="113.65" y2="257.30" stroke="#cc1236" stroke-width="0.9"/>
<text x="123.80" y="260.30" font-size="8.90" stroke="#000" stroke-width="0.18" textLength="37.29" lengthAdjust="spacingAndGlyphs" xml:space="preserve"><tspan font-style="italic">GLI2</tspan> high</text>
<text x="163.00" y="270.90" font-size="9.00" text-anchor="end" stroke="#000" stroke-width="0.18" textLength="75.30" lengthAdjust="spacingAndGlyphs" xml:space="preserve">Log-rank P = 0.045</text>
<text x="17.50" y="280.60" font-size="11.20" text-anchor="middle" stroke="#000" stroke-width="0.18" textLength="68.80" lengthAdjust="spacingAndGlyphs" transform="rotate(-90 17.50 280.60)" xml:space="preserve">Overall survival (%)</text>
<text x="107.00" y="348.20" font-size="11.00" text-anchor="middle" stroke="#000" stroke-width="0.18" textLength="41.00" lengthAdjust="spacingAndGlyphs" xml:space="preserve">Time (days)</text>
<rect x="217.40" y="239.80" width="120.40" height="81.00" fill="none" stroke="#000" stroke-width="1.4"/>
<line x1="213.20" y1="320.80" x2="217.40" y2="320.80" stroke="#000" stroke-width="1.2"/>
<text x="210.80" y="323.50" font-size="7.70" text-anchor="end" stroke="#000" stroke-width="0.18" textLength="4.10" lengthAdjust="spacingAndGlyphs" xml:space="preserve">0</text>
<line x1="213.20" y1="302.40" x2="217.40" y2="302.40" stroke="#000" stroke-width="1.2"/>
<text x="210.80" y="305.10" font-size="7.70" text-anchor="end" stroke="#000" stroke-width="0.18" textLength="8.20" lengthAdjust="spacingAndGlyphs" xml:space="preserve">25</text>
<line x1="213.20" y1="284.00" x2="217.40" y2="284.00" stroke="#000" stroke-width="1.2"/>
<text x="210.80" y="286.70" font-size="7.70" text-anchor="end" stroke="#000" stroke-width="0.18" textLength="8.20" lengthAdjust="spacingAndGlyphs" xml:space="preserve">50</text>
<line x1="213.20" y1="265.60" x2="217.40" y2="265.60" stroke="#000" stroke-width="1.2"/>
<text x="210.80" y="268.30" font-size="7.70" text-anchor="end" stroke="#000" stroke-width="0.18" textLength="8.20" lengthAdjust="spacingAndGlyphs" xml:space="preserve">75</text>
<line x1="213.20" y1="247.20" x2="217.40" y2="247.20" stroke="#000" stroke-width="1.2"/>
<text x="210.80" y="249.90" font-size="7.70" text-anchor="end" stroke="#000" stroke-width="0.18" textLength="12.30" lengthAdjust="spacingAndGlyphs" xml:space="preserve">100</text>
<line x1="217.40" y1="320.80" x2="217.40" y2="324.40" stroke="#000" stroke-width="1.2"/>
<text x="217.70" y="333.80" font-size="7.70" text-anchor="middle" stroke="#000" stroke-width="0.18" textLength="4.30" lengthAdjust="spacingAndGlyphs" xml:space="preserve">0</text>
<line x1="236.52" y1="320.80" x2="236.52" y2="324.40" stroke="#000" stroke-width="1.2"/>
<text x="236.82" y="333.80" font-size="7.70" text-anchor="middle" stroke="#000" stroke-width="0.18" textLength="12.90" lengthAdjust="spacingAndGlyphs" xml:space="preserve">300</text>
<line x1="255.64" y1="320.80" x2="255.64" y2="324.40" stroke="#000" stroke-width="1.2"/>
<text x="255.94" y="333.80" font-size="7.70" text-anchor="middle" stroke="#000" stroke-width="0.18" textLength="12.90" lengthAdjust="spacingAndGlyphs" xml:space="preserve">600</text>
<line x1="274.76" y1="320.80" x2="274.76" y2="324.40" stroke="#000" stroke-width="1.2"/>
<text x="275.06" y="333.80" font-size="7.70" text-anchor="middle" stroke="#000" stroke-width="0.18" textLength="12.90" lengthAdjust="spacingAndGlyphs" xml:space="preserve">900</text>
<line x1="293.88" y1="320.80" x2="293.88" y2="324.40" stroke="#000" stroke-width="1.2"/>
<text x="294.18" y="333.80" font-size="7.70" text-anchor="middle" stroke="#000" stroke-width="0.18" textLength="18.00" lengthAdjust="spacingAndGlyphs" xml:space="preserve">1200</text>
<line x1="313.00" y1="320.80" x2="313.00" y2="324.40" stroke="#000" stroke-width="1.2"/>
<text x="313.30" y="333.80" font-size="7.70" text-anchor="middle" stroke="#000" stroke-width="0.18" textLength="18.00" lengthAdjust="spacingAndGlyphs" xml:space="preserve">1500</text>
<line x1="332.12" y1="320.80" x2="332.12" y2="324.40" stroke="#000" stroke-width="1.2"/>
<text x="332.42" y="333.80" font-size="7.70" text-anchor="middle" stroke="#000" stroke-width="0.18" textLength="18.00" lengthAdjust="spacingAndGlyphs" xml:space="preserve">1800</text>
<line x1="218.10" y1="284.00" x2="337.10" y2="284.00" stroke="#222" stroke-width="0.9" stroke-dasharray="2.4,1.8"/>
<polyline points="217.38,247.46 224.00,247.46 224.00,250.08 224.77,250.08 224.77,251.15 227.08,251.15 227.08,253.15 228.62,253.15 228.62,257.00 229.38,257.00 229.38,260.85 230.62,260.85 230.62,263.92 232.77,263.92 232.77,267.00 234.00,267.00 234.00,269.77 234.77,269.77 234.77,273.46 238.62,273.46 238.62,276.69 240.15,276.69 240.15,280.85 241.38,280.85 241.38,284.69 242.46,284.69 242.46,288.54 244.00,288.54 244.00,292.08 247.08,292.08 247.08,295.46 251.69,295.46 251.69,298.54 253.23,298.54 253.23,301.92 260.92,301.92 260.92,304.69 273.23,304.69 273.23,311.62 333.50,311.62" fill="none" stroke="#cc1236" stroke-width="1.25"/>
<line x1="333.50" y1="309.82" x2="333.50" y2="311.62" stroke="#cc1236" stroke-width="1.0"/>
<polyline points="217.38,247.46 225.08,247.46 225.08,249.31 225.54,249.31 225.54,251.62 232.15,251.62 232.15,253.62 233.23,253.62 233.23,255.46 234.77,255.46 234.77,259.31 235.54,259.31 235.54,262.85 239.38,262.85 239.38,265.46 240.92,265.46 240.92,267.77 242.46,267.77 242.46,270.85 243.23,270.85 243.23,274.38 255.85,274.38 255.85,278.23 258.62,278.23 258.62,282.08 294.80,282.08 294.80,286.20 333.50,286.20" fill="none" stroke="#1d5a9a" stroke-width="1.25"/>
<line x1="333.50" y1="284.40" x2="333.50" y2="286.20" stroke="#1d5a9a" stroke-width="1.0"/>
<line x1="275.40" y1="248.30" x2="288.20" y2="248.30" stroke="#1d5a9a" stroke-width="1.25"/>
<line x1="281.80" y1="246.60" x2="281.80" y2="248.30" stroke="#1d5a9a" stroke-width="0.9"/>
<text x="291.50" y="251.30" font-size="8.90" stroke="#000" stroke-width="0.18" textLength="38.24" lengthAdjust="spacingAndGlyphs" xml:space="preserve"><tspan font-style="italic">IL1R1</tspan> low</text>
<line x1="275.40" y1="257.50" x2="288.20" y2="257.50" stroke="#cc1236" stroke-width="1.25"/>
<line x1="281.80" y1="255.80" x2="281.80" y2="257.50" stroke="#cc1236" stroke-width="0.9"/>
<text x="291.50" y="260.50" font-size="8.90" stroke="#000" stroke-width="0.18" textLength="41.59" lengthAdjust="spacingAndGlyphs" xml:space="preserve"><tspan font-style="italic">IL1R1</tspan> high</text>
<text x="333.20" y="270.90" font-size="9.00" text-anchor="end" stroke="#000" stroke-width="0.18" textLength="75.30" lengthAdjust="spacingAndGlyphs" xml:space="preserve">Log-rank P = 0.016</text>
<text x="191.60" y="280.60" font-size="11.20" text-anchor="middle" stroke="#000" stroke-width="0.18" textLength="68.80" lengthAdjust="spacingAndGlyphs" transform="rotate(-90 191.60 280.60)" xml:space="preserve">Overall survival (%)</text>
<text x="277.60" y="348.20" font-size="11.00" text-anchor="middle" stroke="#000" stroke-width="0.18" textLength="41.00" lengthAdjust="spacingAndGlyphs" xml:space="preserve">Time (days)</text>
<rect x="385.80" y="239.80" width="120.70" height="81.00" fill="none" stroke="#000" stroke-width="1.4"/>
<line x1="381.60" y1="320.80" x2="385.80" y2="320.80" stroke="#000" stroke-width="1.2"/>
<text x="379.20" y="323.50" font-size="7.70" text-anchor="end" stroke="#000" stroke-width="0.18" textLength="4.10" lengthAdjust="spacingAndGlyphs" xml:space="preserve">0</text>
<line x1="381.60" y1="302.40" x2="385.80" y2="302.40" stroke="#000" stroke-width="1.2"/>
<text x="379.20" y="305.10" font-size="7.70" text-anchor="end" stroke="#000" stroke-width="0.18" textLength="8.20" lengthAdjust="spacingAndGlyphs" xml:space="preserve">25</text>
<line x1="381.60" y1="284.00" x2="385.80" y2="284.00" stroke="#000" stroke-width="1.2"/>
<text x="379.20" y="286.70" font-size="7.70" text-anchor="end" stroke="#000" stroke-width="0.18" textLength="8.20" lengthAdjust="spacingAndGlyphs" xml:space="preserve">50</text>
<line x1="381.60" y1="265.60" x2="385.80" y2="265.60" stroke="#000" stroke-width="1.2"/>
<text x="379.20" y="268.30" font-size="7.70" text-anchor="end" stroke="#000" stroke-width="0.18" textLength="8.20" lengthAdjust="spacingAndGlyphs" xml:space="preserve">75</text>
<line x1="381.60" y1="247.20" x2="385.80" y2="247.20" stroke="#000" stroke-width="1.2"/>
<text x="379.20" y="249.90" font-size="7.70" text-anchor="end" stroke="#000" stroke-width="0.18" textLength="12.30" lengthAdjust="spacingAndGlyphs" xml:space="preserve">100</text>
<line x1="385.80" y1="320.80" x2="385.80" y2="324.40" stroke="#000" stroke-width="1.2"/>
<text x="386.10" y="333.80" font-size="7.70" text-anchor="middle" stroke="#000" stroke-width="0.18" textLength="4.30" lengthAdjust="spacingAndGlyphs" xml:space="preserve">0</text>
<line x1="404.92" y1="320.80" x2="404.92" y2="324.40" stroke="#000" stroke-width="1.2"/>
<text x="405.22" y="333.80" font-size="7.70" text-anchor="middle" stroke="#000" stroke-width="0.18" textLength="12.90" lengthAdjust="spacingAndGlyphs" xml:space="preserve">300</text>
<line x1="424.04" y1="320.80" x2="424.04" y2="324.40" stroke="#000" stroke-width="1.2"/>
<text x="424.34" y="333.80" font-size="7.70" text-anchor="middle" stroke="#000" stroke-width="0.18" textLength="12.90" lengthAdjust="spacingAndGlyphs" xml:space="preserve">600</text>
<line x1="443.16" y1="320.80" x2="443.16" y2="324.40" stroke="#000" stroke-width="1.2"/>
<text x="443.46" y="333.80" font-size="7.70" text-anchor="middle" stroke="#000" stroke-width="0.18" textLength="12.90" lengthAdjust="spacingAndGlyphs" xml:space="preserve">900</text>
<line x1="462.28" y1="320.80" x2="462.28" y2="324.40" stroke="#000" stroke-width="1.2"/>
<text x="462.58" y="333.80" font-size="7.70" text-anchor="middle" stroke="#000" stroke-width="0.18" textLength="18.00" lengthAdjust="spacingAndGlyphs" xml:space="preserve">1200</text>
<line x1="481.40" y1="320.80" x2="481.40" y2="324.40" stroke="#000" stroke-width="1.2"/>
<text x="481.70" y="333.80" font-size="7.70" text-anchor="middle" stroke="#000" stroke-width="0.18" textLength="18.00" lengthAdjust="spacingAndGlyphs" xml:space="preserve">1500</text>
<line x1="500.52" y1="320.80" x2="500.52" y2="324.40" stroke="#000" stroke-width="1.2"/>
<text x="500.82" y="333.80" font-size="7.70" text-anchor="middle" stroke="#000" stroke-width="0.18" textLength="18.00" lengthAdjust="spacingAndGlyphs" xml:space="preserve">1800</text>
<line x1="386.50" y1="284.00" x2="505.80" y2="284.00" stroke="#222" stroke-width="0.9" stroke-dasharray="2.4,1.8"/>
<polyline points="385.77,247.46 391.46,247.46 391.46,249.31 393.00,249.31 393.00,251.15 394.08,251.15 394.08,253.15 395.31,253.15 395.31,255.15 396.85,255.15 396.85,257.00 398.38,257.00 398.38,260.08 399.92,260.08 399.92,263.92 401.46,263.92 401.46,267.77 403.00,267.77 403.00,270.54 403.77,270.54 403.77,273.92 406.85,273.92 406.85,276.69 408.38,276.69 408.38,280.85 409.46,280.85 409.46,283.92 410.38,283.92 410.38,287.77 411.46,287.77 411.46,290.85 413.00,290.85 413.00,294.23 416.08,294.23 416.08,297.77 419.92,297.77 419.92,300.85 421.46,300.85 421.46,304.23 429.92,304.23 429.92,307.77 463.00,307.77 463.00,310.50 502.30,310.50" fill="none" stroke="#1d5a9a" stroke-width="1.25"/>
<line x1="502.30" y1="308.70" x2="502.30" y2="310.50" stroke="#1d5a9a" stroke-width="1.0"/>
<polyline points="385.77,247.46 396.54,247.46 396.54,249.31 397.62,249.31 397.62,251.15 398.38,251.15 398.38,254.69 403.00,254.69 403.00,258.54 403.77,258.54 403.77,261.92 407.62,261.92 407.62,265.46 410.69,265.46 410.69,269.31 411.46,269.31 411.46,273.46 424.23,273.46 424.23,277.00 427.62,277.00 427.62,280.85 441.46,280.85 441.46,288.54 502.30,288.54" fill="none" stroke="#cc1236" stroke-width="1.25"/>
<line x1="502.30" y1="286.74" x2="502.30" y2="288.54" stroke="#cc1236" stroke-width="1.0"/>
<line x1="448.00" y1="247.80" x2="460.00" y2="247.80" stroke="#cc1236" stroke-width="1.25"/>
<line x1="454.00" y1="246.10" x2="454.00" y2="247.80" stroke="#cc1236" stroke-width="0.9"/>
<text x="462.80" y="250.80" font-size="8.90" stroke="#000" stroke-width="0.18" textLength="39.20" lengthAdjust="spacingAndGlyphs" xml:space="preserve"><tspan font-style="italic">ST18</tspan> high</text>
<line x1="448.00" y1="257.50" x2="460.00" y2="257.50" stroke="#1d5a9a" stroke-width="1.25"/>
<line x1="454.00" y1="255.80" x2="454.00" y2="257.50" stroke="#1d5a9a" stroke-width="0.9"/>
<text x="462.80" y="260.50" font-size="8.90" stroke="#000" stroke-width="0.18" textLength="35.85" lengthAdjust="spacingAndGlyphs" xml:space="preserve"><tspan font-style="italic">ST18</tspan> low</text>
<text x="501.90" y="270.90" font-size="9.00" text-anchor="end" stroke="#000" stroke-width="0.18" textLength="75.30" lengthAdjust="spacingAndGlyphs" xml:space="preserve">Log-rank P = 0.017</text>
<text x="360.20" y="280.60" font-size="11.20" text-anchor="middle" stroke="#000" stroke-width="0.18" textLength="68.80" lengthAdjust="spacingAndGlyphs" transform="rotate(-90 360.20 280.60)" xml:space="preserve">Overall survival (%)</text>
<text x="446.15" y="348.20" font-size="11.00" text-anchor="middle" stroke="#000" stroke-width="0.18" textLength="41.00" lengthAdjust="spacingAndGlyphs" xml:space="preserve">Time (days)</text>
<text x="8.60" y="369.00" font-size="14.60" font-weight="bold" textLength="9.60" lengthAdjust="spacingAndGlyphs" xml:space="preserve">D</text>
<rect x="247.30" y="365.75" width="95.90" height="7.50" fill="#c8102e"/>
<line x1="243.10" y1="369.50" x2="246.70" y2="369.50" stroke="#000" stroke-width="1.2"/>
<text x="238.80" y="372.40" font-size="8.30" text-anchor="end" stroke="#000" stroke-width="0.18" textLength="176.50" lengthAdjust="spacingAndGlyphs" xml:space="preserve">Positive regulation of multicellular organismal process</text>
<g stroke="#fff" stroke-width="0.75" stroke-opacity="0.9"><line x1="253.9" y1="367.10" x2="253.5" y2="371.30"/><line x1="256.0" y1="367.10" x2="255.6" y2="371.30"/><line x1="252.2" y1="368.50" x2="257.2" y2="368.50"/><line x1="252.0" y1="370.10" x2="257.0" y2="370.10"/></g>
<text x="259.20" y="372.10" font-size="8.60" fill="#fff" stroke="#fff" stroke-width="0.1" textLength="5.00" lengthAdjust="spacingAndGlyphs" xml:space="preserve">$</text>
<circle cx="346.80" cy="369.50" r="0.75" fill="#222"/>
<rect x="247.30" y="374.86" width="95.90" height="7.50" fill="#c8102e"/>
<line x1="243.10" y1="378.61" x2="246.70" y2="378.61" stroke="#000" stroke-width="1.2"/>
<text x="238.80" y="381.51" font-size="8.30" text-anchor="end" stroke="#000" stroke-width="0.18" textLength="59.38" lengthAdjust="spacingAndGlyphs" xml:space="preserve">Immune response</text>
<text x="251.60" y="381.21" font-size="8.60" fill="#fff" stroke="#fff" stroke-width="0.1" textLength="5.00" lengthAdjust="spacingAndGlyphs" xml:space="preserve">$</text>
<circle cx="346.80" cy="377.41" r="0.75" fill="#222"/>
<circle cx="346.80" cy="379.81" r="0.75" fill="#222"/>
<rect x="247.30" y="383.96" width="94.20" height="7.50" fill="#c8102e"/>
<line x1="243.10" y1="387.71" x2="246.70" y2="387.71" stroke="#000" stroke-width="1.2"/>
<text x="238.80" y="390.61" font-size="8.30" text-anchor="end" stroke="#000" stroke-width="0.18" textLength="118.35" lengthAdjust="spacingAndGlyphs" xml:space="preserve">Disruption of cells of other organism</text>
<circle cx="345.10" cy="386.51" r="0.75" fill="#222"/>
<circle cx="345.10" cy="388.91" r="0.75" fill="#222"/>
<rect x="247.30" y="393.07" width="94.20" height="7.50" fill="#c8102e"/>
<line x1="243.10" y1="396.82" x2="246.70" y2="396.82" stroke="#000" stroke-width="1.2"/>
<text x="238.80" y="399.72" font-size="8.30" text-anchor="end" stroke="#000" stroke-width="0.18" textLength="104.75" lengthAdjust="spacingAndGlyphs" xml:space="preserve">Killing of cells of other organism</text>
<circle cx="345.10" cy="394.42" r="0.75" fill="#222"/>
<circle cx="345.10" cy="396.82" r="0.75" fill="#222"/>
<circle cx="345.10" cy="399.22" r="0.75" fill="#222"/>
<rect x="247.30" y="402.17" width="92.40" height="7.50" fill="#c8102e"/>
<line x1="243.10" y1="405.92" x2="246.70" y2="405.92" stroke="#000" stroke-width="1.2"/>
<text x="238.80" y="408.82" font-size="8.30" text-anchor="end" stroke="#000" stroke-width="0.18" textLength="66.00" lengthAdjust="spacingAndGlyphs" xml:space="preserve">Response to fungus</text>
<circle cx="343.30" cy="403.52" r="0.75" fill="#222"/>
<circle cx="343.30" cy="405.92" r="0.75" fill="#222"/>
<circle cx="343.30" cy="408.32" r="0.75" fill="#222"/>
<rect x="247.30" y="411.28" width="88.00" height="7.50" fill="#c8102e"/>
<line x1="243.10" y1="415.03" x2="246.70" y2="415.03" stroke="#000" stroke-width="1.2"/>
<text x="238.80" y="417.93" font-size="8.30" text-anchor="end" stroke="#000" stroke-width="0.18" textLength="31.34" lengthAdjust="spacingAndGlyphs" xml:space="preserve">Secretion</text>
<circle cx="338.90" cy="413.83" r="0.75" fill="#222"/>
<circle cx="338.90" cy="416.23" r="0.75" fill="#222"/>
<rect x="247.30" y="420.39" width="82.70" height="7.50" fill="#c8102e"/>
<line x1="243.10" y1="424.14" x2="246.70" y2="424.14" stroke="#000" stroke-width="1.2"/>
<text x="238.80" y="427.04" font-size="8.30" text-anchor="end" stroke="#000" stroke-width="0.18" textLength="151.35" lengthAdjust="spacingAndGlyphs" xml:space="preserve">Regulation of multicellular organismal process</text>
<g stroke="#fff" stroke-width="0.75" stroke-opacity="0.9"><line x1="253.9" y1="421.74" x2="253.5" y2="425.94"/><line x1="256.0" y1="421.74" x2="255.6" y2="425.94"/><line x1="252.2" y1="423.14" x2="257.2" y2="423.14"/><line x1="252.0" y1="424.74" x2="257.0" y2="424.74"/></g>
<text x="259.20" y="426.74" font-size="8.60" fill="#fff" stroke="#fff" stroke-width="0.1" textLength="5.00" lengthAdjust="spacingAndGlyphs" xml:space="preserve">$</text>
<circle cx="333.60" cy="422.94" r="0.75" fill="#222"/>
<circle cx="333.60" cy="425.34" r="0.75" fill="#222"/>
<rect x="247.30" y="429.49" width="82.70" height="7.50" fill="#c8102e"/>
<line x1="243.10" y1="433.24" x2="246.70" y2="433.24" stroke="#000" stroke-width="1.2"/>
<text x="238.80" y="436.14" font-size="8.30" text-anchor="end" stroke="#000" stroke-width="0.18" textLength="35.46" lengthAdjust="spacingAndGlyphs" xml:space="preserve">Exocytosis</text>
<circle cx="333.60" cy="432.04" r="0.75" fill="#222"/>
<circle cx="333.60" cy="434.44" r="0.75" fill="#222"/>
<rect x="247.30" y="438.60" width="80.90" height="7.50" fill="#c8102e"/>
<line x1="243.10" y1="442.35" x2="246.70" y2="442.35" stroke="#000" stroke-width="1.2"/>
<text x="238.80" y="445.25" font-size="8.30" text-anchor="end" stroke="#000" stroke-width="0.18" textLength="122.08" lengthAdjust="spacingAndGlyphs" xml:space="preserve">Regulation of developmental process</text>
<g stroke="#fff" stroke-width="0.75" stroke-opacity="0.9"><line x1="253.9" y1="439.95" x2="253.5" y2="444.15"/><line x1="256.0" y1="439.95" x2="255.6" y2="444.15"/><line x1="252.2" y1="441.35" x2="257.2" y2="441.35"/><line x1="252.0" y1="442.95" x2="257.0" y2="442.95"/></g>
<circle cx="331.80" cy="441.15" r="0.75" fill="#222"/>
<circle cx="331.80" cy="443.55" r="0.75" fill="#222"/>
<rect x="247.30" y="447.70" width="78.60" height="7.50" fill="#c8102e"/>
<line x1="243.10" y1="451.45" x2="246.70" y2="451.45" stroke="#000" stroke-width="1.2"/>
<text x="238.80" y="454.35" font-size="8.30" text-anchor="end" stroke="#000" stroke-width="0.18" textLength="70.53" lengthAdjust="spacingAndGlyphs" xml:space="preserve">Regulated exocytosis</text>
<circle cx="329.50" cy="451.45" r="0.75" fill="#222"/>
<rect x="247.30" y="456.81" width="76.90" height="7.50" fill="#c8102e"/>
<line x1="243.10" y1="460.56" x2="246.70" y2="460.56" stroke="#000" stroke-width="1.2"/>
<text x="238.80" y="463.46" font-size="8.30" text-anchor="end" stroke="#000" stroke-width="0.18" textLength="80.40" lengthAdjust="spacingAndGlyphs" xml:space="preserve">Immune system process</text>
<text x="251.60" y="463.16" font-size="8.60" fill="#fff" stroke="#fff" stroke-width="0.1" textLength="5.00" lengthAdjust="spacingAndGlyphs" xml:space="preserve">$</text>
<circle cx="327.80" cy="460.56" r="0.75" fill="#222"/>
<rect x="247.30" y="465.92" width="71.20" height="7.50" fill="#c8102e"/>
<line x1="243.10" y1="469.67" x2="246.70" y2="469.67" stroke="#000" stroke-width="1.2"/>
<text x="238.80" y="472.57" font-size="8.30" text-anchor="end" stroke="#000" stroke-width="0.18" textLength="54.44" lengthAdjust="spacingAndGlyphs" xml:space="preserve">Secretion by cell</text>
<circle cx="322.10" cy="469.67" r="0.75" fill="#222"/>
<rect x="247.30" y="475.02" width="71.20" height="7.50" fill="#c8102e"/>
<line x1="243.10" y1="478.77" x2="246.70" y2="478.77" stroke="#000" stroke-width="1.2"/>
<text x="238.80" y="481.67" font-size="8.30" text-anchor="end" stroke="#000" stroke-width="0.18" textLength="76.30" lengthAdjust="spacingAndGlyphs" xml:space="preserve">Response to bacterium</text>
<circle cx="322.10" cy="478.77" r="0.75" fill="#222"/>
<rect x="247.30" y="484.13" width="71.20" height="7.50" fill="#c8102e"/>
<line x1="243.10" y1="487.88" x2="246.70" y2="487.88" stroke="#000" stroke-width="1.2"/>
<text x="238.80" y="490.78" font-size="8.30" text-anchor="end" stroke="#000" stroke-width="0.18" textLength="154.24" lengthAdjust="spacingAndGlyphs" xml:space="preserve">Defense response to Gram-negative bacterium</text>
<circle cx="322.10" cy="487.88" r="0.75" fill="#222"/>
<rect x="247.30" y="493.23" width="71.20" height="7.50" fill="#c8102e"/>
<line x1="243.10" y1="496.98" x2="246.70" y2="496.98" stroke="#000" stroke-width="1.2"/>
<text x="238.80" y="499.88" font-size="8.30" text-anchor="end" stroke="#000" stroke-width="0.18" textLength="147.24" lengthAdjust="spacingAndGlyphs" xml:space="preserve">Positive regulation of developmental process</text>
<g stroke="#fff" stroke-width="0.75" stroke-opacity="0.9"><line x1="253.9" y1="494.58" x2="253.5" y2="498.78"/><line x1="256.0" y1="494.58" x2="255.6" y2="498.78"/><line x1="252.2" y1="495.98" x2="257.2" y2="495.98"/><line x1="252.0" y1="497.58" x2="257.0" y2="497.58"/></g>
<circle cx="322.10" cy="496.98" r="0.75" fill="#222"/>
<rect x="247.30" y="502.34" width="68.90" height="7.50" fill="#c8102e"/>
<line x1="243.10" y1="506.09" x2="246.70" y2="506.09" stroke="#000" stroke-width="1.2"/>
<text x="238.80" y="508.99" font-size="8.30" text-anchor="end" stroke="#000" stroke-width="0.18" textLength="103.92" lengthAdjust="spacingAndGlyphs" xml:space="preserve">Antimicrobial humoral response</text>
<circle cx="319.80" cy="506.09" r="0.75" fill="#222"/>
<rect x="247.30" y="511.45" width="68.90" height="7.50" fill="#c8102e"/>
<line x1="243.10" y1="515.20" x2="246.70" y2="515.20" stroke="#000" stroke-width="1.2"/>
<text x="238.80" y="518.10" font-size="8.30" text-anchor="end" stroke="#000" stroke-width="0.18" textLength="33.40" lengthAdjust="spacingAndGlyphs" xml:space="preserve">Cell killing</text>
<circle cx="319.80" cy="515.20" r="0.75" fill="#222"/>
<rect x="247.30" y="520.55" width="66.50" height="7.50" fill="#c8102e"/>
<line x1="243.10" y1="524.30" x2="246.70" y2="524.30" stroke="#000" stroke-width="1.2"/>
<text x="238.80" y="527.20" font-size="8.30" text-anchor="end" stroke="#000" stroke-width="0.18" textLength="120.71" lengthAdjust="spacingAndGlyphs" xml:space="preserve">Regulation of myotube differentiation</text>
<circle cx="317.40" cy="524.30" r="0.75" fill="#222"/>
<rect x="247.30" y="529.66" width="66.50" height="7.50" fill="#c8102e"/>
<line x1="243.10" y1="533.41" x2="246.70" y2="533.41" stroke="#000" stroke-width="1.2"/>
<text x="238.80" y="536.31" font-size="8.30" text-anchor="end" stroke="#000" stroke-width="0.18" textLength="92.38" lengthAdjust="spacingAndGlyphs" xml:space="preserve">Myeloid leukocyte activation</text>
<circle cx="317.40" cy="533.41" r="0.75" fill="#222"/>
<rect x="247.30" y="538.76" width="64.90" height="7.50" fill="#c8102e"/>
<line x1="243.10" y1="542.51" x2="246.70" y2="542.51" stroke="#000" stroke-width="1.2"/>
<text x="238.80" y="545.41" font-size="8.30" text-anchor="end" stroke="#000" stroke-width="0.18" textLength="39.17" lengthAdjust="spacingAndGlyphs" xml:space="preserve">Chemotaxis</text>
<circle cx="315.80" cy="542.51" r="0.75" fill="#222"/>
<rect x="247.30" y="547.87" width="64.90" height="7.50" fill="#c8102e"/>
<line x1="243.10" y1="551.62" x2="246.70" y2="551.62" stroke="#000" stroke-width="1.2"/>
<text x="238.80" y="554.52" font-size="8.30" text-anchor="end" stroke="#000" stroke-width="0.18" textLength="16.90" lengthAdjust="spacingAndGlyphs" xml:space="preserve">Taxis</text>
<circle cx="315.80" cy="551.62" r="0.75" fill="#222"/>
<rect x="247.30" y="556.98" width="64.90" height="7.50" fill="#c8102e"/>
<line x1="243.10" y1="560.73" x2="246.70" y2="560.73" stroke="#000" stroke-width="1.2"/>
<text x="238.80" y="563.63" font-size="8.30" text-anchor="end" stroke="#000" stroke-width="0.18" textLength="129.50" lengthAdjust="spacingAndGlyphs" xml:space="preserve">Cell surface receptor signaling pathway</text>
<g stroke="#fff" stroke-width="0.75" stroke-opacity="0.9"><line x1="253.9" y1="558.33" x2="253.5" y2="562.53"/><line x1="256.0" y1="558.33" x2="255.6" y2="562.53"/><line x1="252.2" y1="559.73" x2="257.2" y2="559.73"/><line x1="252.0" y1="561.33" x2="257.0" y2="561.33"/></g>
<text x="259.20" y="563.33" font-size="8.60" fill="#fff" stroke="#fff" stroke-width="0.1" textLength="5.00" lengthAdjust="spacingAndGlyphs" xml:space="preserve">$</text>
<circle cx="315.80" cy="560.73" r="0.75" fill="#222"/>
<rect x="247.30" y="566.08" width="64.90" height="7.50" fill="#c8102e"/>
<line x1="243.10" y1="569.83" x2="246.70" y2="569.83" stroke="#000" stroke-width="1.2"/>
<text x="238.80" y="572.73" font-size="8.30" text-anchor="end" stroke="#000" stroke-width="0.18" textLength="105.57" lengthAdjust="spacingAndGlyphs" xml:space="preserve">Extracellular matrix organization</text>
<circle cx="315.80" cy="569.83" r="0.75" fill="#222"/>
<rect x="247.30" y="575.19" width="64.90" height="7.50" fill="#c8102e"/>
<line x1="243.10" y1="578.94" x2="246.70" y2="578.94" stroke="#000" stroke-width="1.2"/>
<text x="238.80" y="581.84" font-size="8.30" text-anchor="end" stroke="#000" stroke-width="0.18" textLength="103.39" lengthAdjust="spacingAndGlyphs" xml:space="preserve">Regulation of cell differentiation</text>
<g stroke="#fff" stroke-width="0.75" stroke-opacity="0.9"><line x1="253.9" y1="576.54" x2="253.5" y2="580.74"/><line x1="256.0" y1="576.54" x2="255.6" y2="580.74"/><line x1="252.2" y1="577.94" x2="257.2" y2="577.94"/><line x1="252.0" y1="579.54" x2="257.0" y2="579.54"/></g>
<circle cx="315.80" cy="578.94" r="0.75" fill="#222"/>
<rect x="247.30" y="584.29" width="63.10" height="7.50" fill="#c8102e"/>
<line x1="243.10" y1="588.04" x2="246.70" y2="588.04" stroke="#000" stroke-width="1.2"/>
<text x="238.80" y="590.94" font-size="8.30" text-anchor="end" stroke="#000" stroke-width="0.18" textLength="63.11" lengthAdjust="spacingAndGlyphs" xml:space="preserve">Signal transduction</text>
<g stroke="#fff" stroke-width="0.75" stroke-opacity="0.9"><line x1="253.9" y1="585.64" x2="253.5" y2="589.84"/><line x1="256.0" y1="585.64" x2="255.6" y2="589.84"/><line x1="252.2" y1="587.04" x2="257.2" y2="587.04"/><line x1="252.0" y1="588.64" x2="257.0" y2="588.64"/></g>
<circle cx="314.00" cy="588.04" r="0.75" fill="#222"/>
<rect x="247.30" y="593.40" width="63.10" height="7.50" fill="#c8102e"/>
<line x1="243.10" y1="597.15" x2="246.70" y2="597.15" stroke="#000" stroke-width="1.2"/>
<text x="238.80" y="600.05" font-size="8.30" text-anchor="end" stroke="#000" stroke-width="0.18" textLength="103.10" lengthAdjust="spacingAndGlyphs" xml:space="preserve">Defense response to bacterium</text>
<circle cx="314.00" cy="597.15" r="0.75" fill="#222"/>
<rect x="247.30" y="602.51" width="63.10" height="7.50" fill="#c8102e"/>
<line x1="243.10" y1="606.26" x2="246.70" y2="606.26" stroke="#000" stroke-width="1.2"/>
<text x="238.80" y="609.16" font-size="8.30" text-anchor="end" stroke="#000" stroke-width="0.18" textLength="167.85" lengthAdjust="spacingAndGlyphs" xml:space="preserve">Regulation of multicellular organismal development</text>
<g stroke="#fff" stroke-width="0.75" stroke-opacity="0.9"><line x1="253.9" y1="603.86" x2="253.5" y2="608.06"/><line x1="256.0" y1="603.86" x2="255.6" y2="608.06"/><line x1="252.2" y1="605.26" x2="257.2" y2="605.26"/><line x1="252.0" y1="606.86" x2="257.0" y2="606.86"/></g>
<circle cx="314.00" cy="606.26" r="0.75" fill="#222"/>
<rect x="247.30" y="611.61" width="61.00" height="7.50" fill="#c8102e"/>
<line x1="243.10" y1="615.36" x2="246.70" y2="615.36" stroke="#000" stroke-width="1.2"/>
<text x="238.80" y="618.26" font-size="8.30" text-anchor="end" stroke="#000" stroke-width="0.18" textLength="212.80" lengthAdjust="spacingAndGlyphs" xml:space="preserve">Negative regulation of cellular response to growth factor stimulus</text>
<circle cx="311.90" cy="615.36" r="0.75" fill="#222"/>
<rect x="247.30" y="620.72" width="61.00" height="7.50" fill="#c8102e"/>
<line x1="243.10" y1="624.47" x2="246.70" y2="624.47" stroke="#000" stroke-width="1.2"/>
<text x="238.80" y="627.37" font-size="8.30" text-anchor="end" stroke="#000" stroke-width="0.18" textLength="194.24" lengthAdjust="spacingAndGlyphs" xml:space="preserve">Modification of morphology or physiology of other organism</text>
<rect x="247.30" y="629.82" width="59.40" height="7.50" fill="#c8102e"/>
<line x1="243.10" y1="633.57" x2="246.70" y2="633.57" stroke="#000" stroke-width="1.2"/>
<text x="238.80" y="636.47" font-size="8.30" text-anchor="end" stroke="#000" stroke-width="0.18" textLength="37.93" lengthAdjust="spacingAndGlyphs" xml:space="preserve">Cell motility</text>
<rect x="247.30" y="638.93" width="59.40" height="7.50" fill="#c8102e"/>
<line x1="243.10" y1="642.68" x2="246.70" y2="642.68" stroke="#000" stroke-width="1.2"/>
<text x="238.80" y="645.58" font-size="8.30" text-anchor="end" stroke="#000" stroke-width="0.18" textLength="93.21" lengthAdjust="spacingAndGlyphs" xml:space="preserve">Response to other organism</text>
<rect x="247.30" y="648.04" width="59.40" height="7.50" fill="#c8102e"/>
<line x1="243.10" y1="651.79" x2="246.70" y2="651.79" stroke="#000" stroke-width="1.2"/>
<text x="238.80" y="654.69" font-size="8.30" text-anchor="end" stroke="#000" stroke-width="0.18" textLength="141.04" lengthAdjust="spacingAndGlyphs" xml:space="preserve">Movement of cell or subcellular component</text>
<g stroke="#fff" stroke-width="0.75" stroke-opacity="0.9"><line x1="253.9" y1="649.39" x2="253.5" y2="653.59"/><line x1="256.0" y1="649.39" x2="255.6" y2="653.59"/><line x1="252.2" y1="650.79" x2="257.2" y2="650.79"/><line x1="252.0" y1="652.39" x2="257.0" y2="652.39"/></g>
<rect x="247.30" y="657.14" width="59.40" height="7.50" fill="#c8102e"/>
<line x1="243.10" y1="660.89" x2="246.70" y2="660.89" stroke="#000" stroke-width="1.2"/>
<text x="238.80" y="663.79" font-size="8.30" text-anchor="end" stroke="#000" stroke-width="0.18" textLength="170.32" lengthAdjust="spacingAndGlyphs" xml:space="preserve">Myeloid cell activation involved in immune response</text>
<rect x="247.30" y="666.25" width="57.30" height="7.50" fill="#c8102e"/>
<line x1="243.10" y1="670.00" x2="246.70" y2="670.00" stroke="#000" stroke-width="1.2"/>
<text x="238.80" y="672.90" font-size="8.30" text-anchor="end" stroke="#000" stroke-width="0.18" textLength="148.07" lengthAdjust="spacingAndGlyphs" xml:space="preserve">Positive regulation of protein phosphorylation</text>
<text x="402.00" y="389.40" font-size="8.00" stroke="#000" stroke-width="0.18" textLength="28.70" lengthAdjust="spacingAndGlyphs" xml:space="preserve"># <tspan font-style="italic">GLI2</tspan></text>
<text x="402.00" y="400.20" font-size="8.00" stroke="#000" stroke-width="0.18" textLength="32.00" lengthAdjust="spacingAndGlyphs" xml:space="preserve">$ <tspan font-style="italic">IL1R1</tspan></text>
<text x="402.7" y="427.8" font-size="8.4" stroke="#000" stroke-width="0.18">*</text>
<text x="402.7" y="439.2" font-size="8.4" stroke="#000" stroke-width="0.18">**</text>
<text x="402.7" y="450.9" font-size="8.4" stroke="#000" stroke-width="0.18" textLength="9" lengthAdjust="spacingAndGlyphs">***</text>
<text x="410.50" y="427.80" font-size="8.90" stroke="#000" stroke-width="0.18" textLength="46.10" lengthAdjust="spacingAndGlyphs" xml:space="preserve">FDR &lt; 0.25</text>
<text x="411.60" y="439.20" font-size="8.90" stroke="#000" stroke-width="0.18" textLength="46.00" lengthAdjust="spacingAndGlyphs" xml:space="preserve">FDR &lt; 0.10</text>
<text x="412.20" y="450.90" font-size="8.90" stroke="#000" stroke-width="0.18" textLength="45.80" lengthAdjust="spacingAndGlyphs" xml:space="preserve">FDR &lt; 0.05</text>
<line x1="52.40" y1="692.00" x2="441.40" y2="692.00" stroke="#000" stroke-width="1.3"/>
<line x1="246.70" y1="361.70" x2="246.70" y2="777.50" stroke="#000" stroke-width="1.3"/>
<line x1="52.50" y1="689.00" x2="52.50" y2="692.00" stroke="#000" stroke-width="1.2"/>
<text x="52.50" y="684.60" font-size="7.90" text-anchor="middle" stroke="#000" stroke-width="0.18" textLength="8.45" lengthAdjust="spacingAndGlyphs" xml:space="preserve">10</text>
<line x1="91.34" y1="689.00" x2="91.34" y2="692.00" stroke="#000" stroke-width="1.2"/>
<text x="91.34" y="684.60" font-size="7.90" text-anchor="middle" stroke="#000" stroke-width="0.18" textLength="4.23" lengthAdjust="spacingAndGlyphs" xml:space="preserve">8</text>
<line x1="130.18" y1="689.00" x2="130.18" y2="692.00" stroke="#000" stroke-width="1.2"/>
<text x="130.18" y="684.60" font-size="7.90" text-anchor="middle" stroke="#000" stroke-width="0.18" textLength="4.23" lengthAdjust="spacingAndGlyphs" xml:space="preserve">6</text>
<line x1="169.02" y1="689.00" x2="169.02" y2="692.00" stroke="#000" stroke-width="1.2"/>
<text x="169.02" y="684.60" font-size="7.90" text-anchor="middle" stroke="#000" stroke-width="0.18" textLength="4.23" lengthAdjust="spacingAndGlyphs" xml:space="preserve">4</text>
<line x1="207.86" y1="689.00" x2="207.86" y2="692.00" stroke="#000" stroke-width="1.2"/>
<text x="207.86" y="684.60" font-size="7.90" text-anchor="middle" stroke="#000" stroke-width="0.18" textLength="4.23" lengthAdjust="spacingAndGlyphs" xml:space="preserve">2</text>
<line x1="285.54" y1="692.00" x2="285.54" y2="695.20" stroke="#000" stroke-width="1.2"/>
<text x="285.54" y="705.10" font-size="7.90" text-anchor="middle" stroke="#000" stroke-width="0.18" textLength="4.23" lengthAdjust="spacingAndGlyphs" xml:space="preserve">2</text>
<line x1="324.38" y1="692.00" x2="324.38" y2="695.20" stroke="#000" stroke-width="1.2"/>
<text x="324.38" y="705.10" font-size="7.90" text-anchor="middle" stroke="#000" stroke-width="0.18" textLength="4.23" lengthAdjust="spacingAndGlyphs" xml:space="preserve">4</text>
<line x1="363.22" y1="692.00" x2="363.22" y2="695.20" stroke="#000" stroke-width="1.2"/>
<text x="363.22" y="705.10" font-size="7.90" text-anchor="middle" stroke="#000" stroke-width="0.18" textLength="4.23" lengthAdjust="spacingAndGlyphs" xml:space="preserve">6</text>
<line x1="402.06" y1="692.00" x2="402.06" y2="695.20" stroke="#000" stroke-width="1.2"/>
<text x="402.06" y="705.10" font-size="7.90" text-anchor="middle" stroke="#000" stroke-width="0.18" textLength="4.23" lengthAdjust="spacingAndGlyphs" xml:space="preserve">8</text>
<line x1="440.90" y1="692.00" x2="440.90" y2="695.20" stroke="#000" stroke-width="1.2"/>
<text x="440.90" y="705.10" font-size="7.90" text-anchor="middle" stroke="#000" stroke-width="0.18" textLength="8.45" lengthAdjust="spacingAndGlyphs" xml:space="preserve">10</text>
<text x="448.80" y="705.10" font-size="8.30" stroke="#000" stroke-width="0.18" textLength="35.30" lengthAdjust="spacingAndGlyphs" xml:space="preserve">−log10(P)</text>
<text x="438.70" y="688.00" font-size="7.90" text-anchor="end" stroke="#000" stroke-width="0.18" textLength="65.70" lengthAdjust="spacingAndGlyphs" xml:space="preserve">Up-regulated DEGs</text>
<text x="53.10" y="701.80" font-size="8.30" stroke="#000" stroke-width="0.18" textLength="81.10" lengthAdjust="spacingAndGlyphs" xml:space="preserve">Down-regulated DEGs</text>
<rect x="80.10" y="712.00" width="166.00" height="7.10" fill="#c8102e"/>
<line x1="246.70" y1="715.50" x2="250.30" y2="715.50" stroke="#000" stroke-width="1.2"/>
<text x="255.00" y="718.40" font-size="8.30" stroke="#000" stroke-width="0.18" textLength="242.33" lengthAdjust="spacingAndGlyphs" xml:space="preserve">Homophilic cell adhesion via plasma membrane adhesion molecules</text>
<circle cx="76.10" cy="713.10" r="0.75" fill="#222"/>
<circle cx="76.10" cy="715.50" r="0.75" fill="#222"/>
<circle cx="76.10" cy="717.90" r="0.75" fill="#222"/>
<rect x="80.10" y="721.15" width="166.00" height="7.10" fill="#c8102e"/>
<line x1="246.70" y1="724.65" x2="250.30" y2="724.65" stroke="#000" stroke-width="1.2"/>
<text x="255.00" y="727.55" font-size="8.30" stroke="#000" stroke-width="0.18" textLength="48.47" lengthAdjust="spacingAndGlyphs" xml:space="preserve">Cell adhesion</text>
<circle cx="76.10" cy="722.25" r="0.75" fill="#222"/>
<circle cx="76.10" cy="724.65" r="0.75" fill="#222"/>
<circle cx="76.10" cy="727.05" r="0.75" fill="#222"/>
<rect x="81.90" y="730.30" width="164.20" height="7.10" fill="#c8102e"/>
<line x1="246.70" y1="733.80" x2="250.30" y2="733.80" stroke="#000" stroke-width="1.2"/>
<text x="255.00" y="736.70" font-size="8.30" stroke="#000" stroke-width="0.18" textLength="68.93" lengthAdjust="spacingAndGlyphs" xml:space="preserve">Biological adhesion</text>
<circle cx="77.90" cy="731.40" r="0.75" fill="#222"/>
<circle cx="77.90" cy="733.80" r="0.75" fill="#222"/>
<circle cx="77.90" cy="736.20" r="0.75" fill="#222"/>
<rect x="103.20" y="739.45" width="142.90" height="7.10" fill="#c8102e"/>
<line x1="246.70" y1="742.95" x2="250.30" y2="742.95" stroke="#000" stroke-width="1.2"/>
<text x="255.00" y="745.85" font-size="8.30" stroke="#000" stroke-width="0.18" textLength="217.43" lengthAdjust="spacingAndGlyphs" xml:space="preserve">Cell-cell adhesion via plasma-membrane adhesion molecules</text>
<circle cx="99.20" cy="740.55" r="0.75" fill="#222"/>
<circle cx="99.20" cy="742.95" r="0.75" fill="#222"/>
<circle cx="99.20" cy="745.35" r="0.75" fill="#222"/>
<rect x="111.70" y="748.60" width="134.40" height="7.10" fill="#c8102e"/>
<line x1="246.70" y1="752.10" x2="250.30" y2="752.10" stroke="#000" stroke-width="1.2"/>
<text x="255.00" y="755.00" font-size="8.30" stroke="#000" stroke-width="0.18" textLength="63.14" lengthAdjust="spacingAndGlyphs" xml:space="preserve">Cell-cell adhesion</text>
<circle cx="107.70" cy="749.70" r="0.75" fill="#222"/>
<circle cx="107.70" cy="752.10" r="0.75" fill="#222"/>
<circle cx="107.70" cy="754.50" r="0.75" fill="#222"/>
<rect x="153.50" y="757.75" width="92.60" height="7.10" fill="#c8102e"/>
<line x1="246.70" y1="761.25" x2="250.30" y2="761.25" stroke="#000" stroke-width="1.2"/>
<text x="255.00" y="764.15" font-size="8.30" stroke="#000" stroke-width="0.18" textLength="48.47" lengthAdjust="spacingAndGlyphs" xml:space="preserve">Keratinization</text>
<circle cx="149.50" cy="758.85" r="0.75" fill="#222"/>
<circle cx="149.50" cy="761.25" r="0.75" fill="#222"/>
<circle cx="149.50" cy="763.65" r="0.75" fill="#222"/>
<rect x="165.70" y="766.90" width="80.40" height="7.10" fill="#c8102e"/>
<line x1="246.70" y1="770.40" x2="250.30" y2="770.40" stroke="#000" stroke-width="1.2"/>
<text x="255.00" y="773.30" font-size="8.30" stroke="#000" stroke-width="0.18" textLength="44.46" lengthAdjust="spacingAndGlyphs" xml:space="preserve">Cornification</text>
<circle cx="161.70" cy="770.40" r="0.75" fill="#222"/>
<rect x="0" y="0" width="520" height="1.2" fill="#000"/>
<rect x="0" y="0" width="1.5" height="786" fill="#000"/>
<rect x="518.5" y="0" width="1.5" height="786" fill="#000"/>
<rect x="0" y="784.5" width="520" height="1.5" fill="#000"/>
</svg>
</body></html>
